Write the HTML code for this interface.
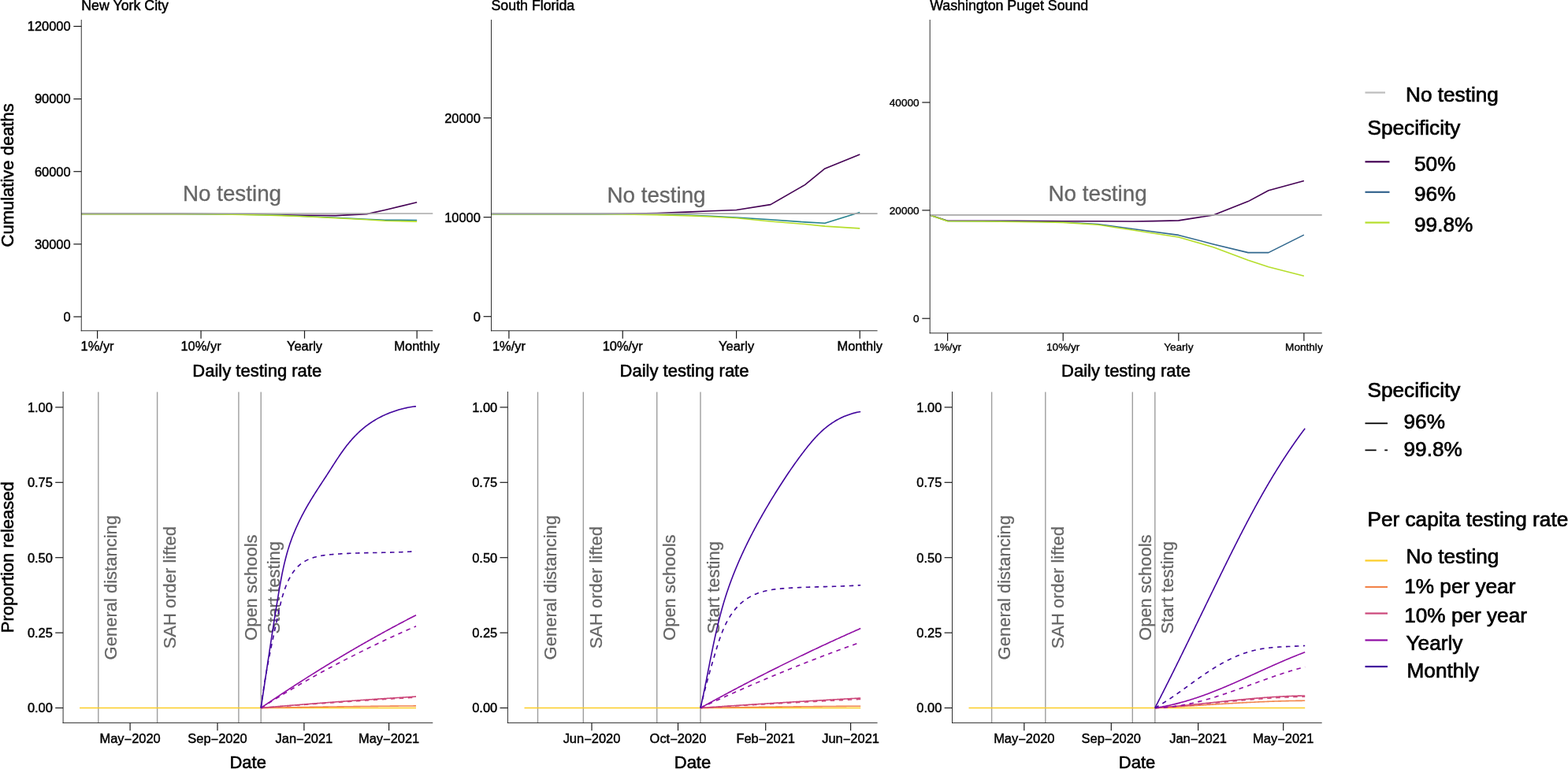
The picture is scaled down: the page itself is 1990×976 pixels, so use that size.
<!DOCTYPE html>
<html lang="en">
<head>
<meta charset="utf-8">
<title>Testing strategies: cumulative deaths and proportion released</title>
<style>
html,body{margin:0;padding:0;background:#fff;}
body{width:1990px;height:976px;overflow:hidden;}
svg{display:block;font-family:"Liberation Sans", Arial, Helvetica, sans-serif;}
</style>
</head>
<body>
<svg width="1990" height="976" viewBox="0 0 1990 976">
<rect x="0" y="0" width="1990" height="976" fill="#ffffff"/>
<text x="103.25" y="13.40" font-size="17.8" text-anchor="start" fill="#000" stroke="#000" stroke-width="0.47" >New York City</text>
<path d="M103.25,271.40 L123.60,271.40 L163.17,271.40 L202.74,271.40 L225.89,271.40 L255.05,271.50 L294.62,271.80 L334.19,272.30 L357.34,272.90 L386.50,273.30 L426.07,273.60 L465.64,271.60 L488.79,266.50 L529.15,256.80" fill="none" stroke="#440154" stroke-width="1.6" stroke-linejoin="round" />
<path d="M103.25,271.50 L123.60,271.50 L163.17,271.50 L202.74,271.50 L225.89,271.50 L255.05,271.60 L294.62,272.00 L334.19,272.70 L357.34,273.30 L386.50,274.50 L426.07,276.30 L465.64,278.20 L488.79,279.30 L529.15,279.50" fill="none" stroke="#26828e" stroke-width="1.6" stroke-linejoin="round" />
<path d="M103.25,271.70 L123.60,271.70 L163.17,271.70 L202.74,271.70 L225.89,271.70 L255.05,271.80 L294.62,272.20 L334.19,273.00 L357.34,273.60 L386.50,274.80 L426.07,276.70 L465.64,278.80 L488.79,280.20 L529.15,281.10" fill="none" stroke="#b5de2b" stroke-width="1.6" stroke-linejoin="round" />
<line x1="103.25" y1="271.00" x2="549.30" y2="271.00" stroke="#a9a9a9" stroke-width="1.6" />
<text x="294.50" y="254.50" font-size="27.8" text-anchor="middle" fill="#666666" stroke="#666666" stroke-width="0.30" >No testing</text>
<line x1="103.25" y1="25.00" x2="103.25" y2="420.25" stroke="#1a1a1a" stroke-width="0.9" />
<line x1="102.75" y1="419.75" x2="549.30" y2="419.75" stroke="#1a1a1a" stroke-width="0.9" />
<line x1="93.35" y1="402.00" x2="103.25" y2="402.00" stroke="#1a1a1a" stroke-width="1.2" />
<text x="89.65" y="407.89" font-size="16.45" text-anchor="end" fill="#000" stroke="#000" stroke-width="0.43" >0</text>
<line x1="93.35" y1="309.85" x2="103.25" y2="309.85" stroke="#1a1a1a" stroke-width="1.2" />
<text x="89.65" y="315.74" font-size="16.45" text-anchor="end" fill="#000" stroke="#000" stroke-width="0.43" >30000</text>
<line x1="93.35" y1="217.70" x2="103.25" y2="217.70" stroke="#1a1a1a" stroke-width="1.2" />
<text x="89.65" y="223.59" font-size="16.45" text-anchor="end" fill="#000" stroke="#000" stroke-width="0.43" >60000</text>
<line x1="93.35" y1="125.60" x2="103.25" y2="125.60" stroke="#1a1a1a" stroke-width="1.2" />
<text x="89.65" y="131.49" font-size="16.45" text-anchor="end" fill="#000" stroke="#000" stroke-width="0.43" >90000</text>
<line x1="93.35" y1="33.45" x2="103.25" y2="33.45" stroke="#1a1a1a" stroke-width="1.2" />
<text x="89.65" y="39.34" font-size="16.45" text-anchor="end" fill="#000" stroke="#000" stroke-width="0.43" >120000</text>
<line x1="123.60" y1="419.75" x2="123.60" y2="429.65" stroke="#1a1a1a" stroke-width="1.2" />
<text x="123.60" y="445.00" font-size="16.45" text-anchor="middle" fill="#000" stroke="#000" stroke-width="0.43" >1%/yr</text>
<line x1="255.05" y1="419.75" x2="255.05" y2="429.65" stroke="#1a1a1a" stroke-width="1.2" />
<text x="255.05" y="445.00" font-size="16.45" text-anchor="middle" fill="#000" stroke="#000" stroke-width="0.43" >10%/yr</text>
<line x1="386.50" y1="419.75" x2="386.50" y2="429.65" stroke="#1a1a1a" stroke-width="1.2" />
<text x="386.50" y="445.00" font-size="16.45" text-anchor="middle" fill="#000" stroke="#000" stroke-width="0.43" >Yearly</text>
<line x1="529.15" y1="419.75" x2="529.15" y2="429.65" stroke="#1a1a1a" stroke-width="1.2" />
<text x="529.15" y="445.00" font-size="16.45" text-anchor="middle" fill="#000" stroke="#000" stroke-width="0.43" >Monthly</text>
<text x="326.27" y="477.50" font-size="22" text-anchor="middle" fill="#000" stroke="#000" stroke-width="0.58" >Daily testing rate</text>
<text x="623.50" y="13.40" font-size="17.8" text-anchor="start" fill="#000" stroke="#000" stroke-width="0.47" >South Florida</text>
<path d="M623.50,271.50 L645.90,271.50 L689.35,271.50 L732.81,271.50 L758.23,271.50 L790.25,271.30 L833.70,270.50 L877.16,268.90 L902.58,267.80 L934.60,266.50 L978.05,259.60 L1021.51,234.60 L1046.93,213.90 L1091.25,196.10" fill="none" stroke="#440154" stroke-width="1.6" stroke-linejoin="round" />
<path d="M623.50,271.60 L645.90,271.60 L689.35,271.60 L732.81,271.60 L758.23,271.60 L790.25,271.70 L833.70,272.20 L877.16,273.30 L902.58,274.30 L934.60,276.00 L978.05,278.80 L1021.51,281.90 L1046.93,283.30 L1091.25,269.60" fill="none" stroke="#26828e" stroke-width="1.6" stroke-linejoin="round" />
<path d="M623.50,271.80 L645.90,271.80 L689.35,271.80 L732.81,271.80 L758.23,271.80 L790.25,271.90 L833.70,272.60 L877.16,273.90 L902.58,275.00 L934.60,276.80 L978.05,281.00 L1021.51,284.50 L1046.93,287.10 L1091.25,289.90" fill="none" stroke="#b5de2b" stroke-width="1.6" stroke-linejoin="round" />
<line x1="623.50" y1="271.10" x2="1113.60" y2="271.10" stroke="#a9a9a9" stroke-width="1.6" />
<text x="833.00" y="256.50" font-size="27.8" text-anchor="middle" fill="#666666" stroke="#666666" stroke-width="0.30" >No testing</text>
<line x1="623.50" y1="25.00" x2="623.50" y2="420.25" stroke="#1a1a1a" stroke-width="0.9" />
<line x1="623.00" y1="419.75" x2="1113.60" y2="419.75" stroke="#1a1a1a" stroke-width="0.9" />
<line x1="613.60" y1="401.70" x2="623.50" y2="401.70" stroke="#1a1a1a" stroke-width="1.2" />
<text x="609.90" y="407.59" font-size="16.45" text-anchor="end" fill="#000" stroke="#000" stroke-width="0.43" >0</text>
<line x1="613.60" y1="275.70" x2="623.50" y2="275.70" stroke="#1a1a1a" stroke-width="1.2" />
<text x="609.90" y="281.59" font-size="16.45" text-anchor="end" fill="#000" stroke="#000" stroke-width="0.43" >10000</text>
<line x1="613.60" y1="149.70" x2="623.50" y2="149.70" stroke="#1a1a1a" stroke-width="1.2" />
<text x="609.90" y="155.59" font-size="16.45" text-anchor="end" fill="#000" stroke="#000" stroke-width="0.43" >20000</text>
<line x1="645.90" y1="419.75" x2="645.90" y2="429.65" stroke="#1a1a1a" stroke-width="1.2" />
<text x="645.90" y="445.00" font-size="16.45" text-anchor="middle" fill="#000" stroke="#000" stroke-width="0.43" >1%/yr</text>
<line x1="790.25" y1="419.75" x2="790.25" y2="429.65" stroke="#1a1a1a" stroke-width="1.2" />
<text x="790.25" y="445.00" font-size="16.45" text-anchor="middle" fill="#000" stroke="#000" stroke-width="0.43" >10%/yr</text>
<line x1="934.60" y1="419.75" x2="934.60" y2="429.65" stroke="#1a1a1a" stroke-width="1.2" />
<text x="934.60" y="445.00" font-size="16.45" text-anchor="middle" fill="#000" stroke="#000" stroke-width="0.43" >Yearly</text>
<line x1="1091.25" y1="419.75" x2="1091.25" y2="429.65" stroke="#1a1a1a" stroke-width="1.2" />
<text x="1091.25" y="445.00" font-size="16.45" text-anchor="middle" fill="#000" stroke="#000" stroke-width="0.43" >Monthly</text>
<text x="868.55" y="477.50" font-size="22" text-anchor="middle" fill="#000" stroke="#000" stroke-width="0.58" >Daily testing rate</text>
<text x="1180.20" y="13.40" font-size="17.8" text-anchor="start" fill="#000" stroke="#000" stroke-width="0.47" >Washington Puget Sound</text>
<path d="M1180.20,272.90 L1202.60,280.20 L1246.73,280.30 L1290.86,280.40 L1316.68,280.50 L1349.20,280.80 L1393.33,280.80 L1437.46,281.00 L1463.28,280.60 L1495.80,279.90 L1539.93,273.00 L1584.06,255.60 L1609.88,241.80 L1654.89,229.50" fill="none" stroke="#440154" stroke-width="1.6" stroke-linejoin="round" />
<path d="M1180.20,272.90 L1202.60,280.50 L1246.73,280.80 L1290.86,281.20 L1316.68,281.50 L1349.20,282.00 L1393.33,284.50 L1437.46,290.50 L1463.28,294.00 L1495.80,298.40 L1539.93,309.90 L1584.06,320.60 L1609.88,320.60 L1654.89,298.10" fill="none" stroke="#31688e" stroke-width="1.6" stroke-linejoin="round" />
<path d="M1180.20,272.90 L1202.60,280.70 L1246.73,281.00 L1290.86,281.50 L1316.68,281.80 L1349.20,282.40 L1393.33,285.30 L1437.46,292.00 L1463.28,296.00 L1495.80,301.00 L1539.93,313.70 L1584.06,330.30 L1609.88,338.80 L1654.89,350.30" fill="none" stroke="#b5de2b" stroke-width="1.6" stroke-linejoin="round" />
<line x1="1180.20" y1="272.90" x2="1677.70" y2="272.90" stroke="#a9a9a9" stroke-width="1.6" />
<text x="1393.10" y="254.50" font-size="27.8" text-anchor="middle" fill="#666666" stroke="#666666" stroke-width="0.30" >No testing</text>
<line x1="1180.20" y1="25.00" x2="1180.20" y2="423.25" stroke="#1a1a1a" stroke-width="0.9" />
<line x1="1179.70" y1="422.75" x2="1677.70" y2="422.75" stroke="#1a1a1a" stroke-width="0.9" />
<line x1="1170.30" y1="404.20" x2="1180.20" y2="404.20" stroke="#1a1a1a" stroke-width="1.2" />
<text x="1166.60" y="409.07" font-size="13.6" text-anchor="end" fill="#000" stroke="#000" stroke-width="0.36" >0</text>
<line x1="1170.30" y1="266.90" x2="1180.20" y2="266.90" stroke="#1a1a1a" stroke-width="1.2" />
<text x="1166.60" y="271.77" font-size="13.6" text-anchor="end" fill="#000" stroke="#000" stroke-width="0.36" >20000</text>
<line x1="1170.30" y1="130.00" x2="1180.20" y2="130.00" stroke="#1a1a1a" stroke-width="1.2" />
<text x="1166.60" y="134.87" font-size="13.6" text-anchor="end" fill="#000" stroke="#000" stroke-width="0.36" >40000</text>
<line x1="1202.60" y1="422.75" x2="1202.60" y2="432.65" stroke="#1a1a1a" stroke-width="1.2" />
<text x="1202.60" y="445.15" font-size="13.6" text-anchor="middle" fill="#000" stroke="#000" stroke-width="0.36" >1%/yr</text>
<line x1="1349.20" y1="422.75" x2="1349.20" y2="432.65" stroke="#1a1a1a" stroke-width="1.2" />
<text x="1349.20" y="445.15" font-size="13.6" text-anchor="middle" fill="#000" stroke="#000" stroke-width="0.36" >10%/yr</text>
<line x1="1495.80" y1="422.75" x2="1495.80" y2="432.65" stroke="#1a1a1a" stroke-width="1.2" />
<text x="1495.80" y="445.15" font-size="13.6" text-anchor="middle" fill="#000" stroke="#000" stroke-width="0.36" >Yearly</text>
<line x1="1654.89" y1="422.75" x2="1654.89" y2="432.65" stroke="#1a1a1a" stroke-width="1.2" />
<text x="1654.89" y="445.15" font-size="13.6" text-anchor="middle" fill="#000" stroke="#000" stroke-width="0.36" >Monthly</text>
<text x="1428.95" y="477.50" font-size="22" text-anchor="middle" fill="#000" stroke="#000" stroke-width="0.58" >Daily testing rate</text>
<text x="17.30" y="222.40" font-size="22" text-anchor="middle" fill="#000" stroke="#000" stroke-width="0.58" transform="rotate(-90 17.30 222.40)" >Cumulative deaths</text>
<line x1="124.80" y1="497.60" x2="124.80" y2="917.40" stroke="#9e9e9e" stroke-width="1.4" />
<line x1="199.60" y1="497.60" x2="199.60" y2="917.40" stroke="#9e9e9e" stroke-width="1.4" />
<line x1="302.90" y1="497.60" x2="302.90" y2="917.40" stroke="#9e9e9e" stroke-width="1.4" />
<line x1="331.20" y1="497.60" x2="331.20" y2="917.40" stroke="#9e9e9e" stroke-width="1.4" />
<text x="148.40" y="745.70" font-size="22" text-anchor="middle" fill="#666666" stroke="#666666" stroke-width="0.25" transform="rotate(-90 148.40 745.70)" >General distancing</text>
<text x="223.20" y="745.70" font-size="22" text-anchor="middle" fill="#666666" stroke="#666666" stroke-width="0.25" transform="rotate(-90 223.20 745.70)" >SAH order lifted</text>
<text x="326.50" y="745.70" font-size="22" text-anchor="middle" fill="#666666" stroke="#666666" stroke-width="0.25" transform="rotate(-90 326.50 745.70)" >Open schools</text>
<text x="354.80" y="745.70" font-size="22" text-anchor="middle" fill="#666666" stroke="#666666" stroke-width="0.25" transform="rotate(-90 354.80 745.70)" >Start testing</text>
<path d="M101.10,898.50 L528.00,898.50" fill="none" stroke="#fccd25" stroke-width="1.6" stroke-linejoin="round" />
<path d="M331.20,898.50 L332.19,898.48 L333.18,898.46 L334.17,898.44 L335.16,898.42 L336.14,898.41 L337.13,898.39 L338.12,898.37 L339.11,898.35 L340.10,898.33 L341.09,898.31 L342.08,898.29 L343.07,898.28 L344.06,898.26 L345.05,898.24 L346.03,898.22 L347.02,898.20 L348.01,898.18 L349.00,898.17 L349.99,898.15 L350.98,898.13 L351.97,898.11 L352.96,898.09 L353.95,898.08 L354.93,898.06 L355.92,898.04 L356.91,898.02 L357.90,898.01 L358.89,897.99 L359.88,897.97 L360.87,897.95 L361.86,897.94 L362.85,897.92 L363.84,897.90 L364.82,897.88 L365.81,897.87 L366.80,897.85 L367.79,897.83 L368.78,897.82 L369.77,897.80 L370.76,897.78 L371.75,897.76 L372.74,897.75 L373.72,897.73 L374.71,897.71 L375.70,897.70 L376.69,897.68 L377.68,897.67 L378.67,897.65 L379.66,897.63 L380.65,897.62 L381.64,897.60 L382.63,897.58 L383.61,897.57 L384.60,897.55 L385.59,897.54 L386.58,897.52 L387.57,897.51 L388.56,897.49 L389.55,897.47 L390.54,897.46 L391.53,897.44 L392.51,897.43 L393.50,897.41 L394.49,897.40 L395.48,897.38 L396.47,897.37 L397.46,897.35 L398.45,897.34 L399.44,897.32 L400.43,897.31 L401.42,897.29 L402.40,897.28 L403.39,897.26 L404.38,897.25 L405.37,897.23 L406.36,897.22 L407.35,897.21 L408.34,897.19 L409.33,897.18 L410.32,897.16 L411.30,897.15 L412.29,897.14 L413.28,897.12 L414.27,897.11 L415.26,897.09 L416.25,897.08 L417.24,897.07 L418.23,897.05 L419.22,897.04 L420.21,897.03 L421.19,897.01 L422.18,897.00 L423.17,896.99 L424.16,896.97 L425.15,896.96 L426.14,896.95 L427.13,896.94 L428.12,896.92 L429.11,896.91 L430.09,896.90 L431.08,896.89 L432.07,896.87 L433.06,896.86 L434.05,896.85 L435.04,896.84 L436.03,896.83 L437.02,896.81 L438.01,896.80 L438.99,896.79 L439.98,896.78 L440.97,896.76 L441.96,896.75 L442.95,896.74 L443.94,896.73 L444.93,896.72 L445.92,896.71 L446.91,896.69 L447.90,896.68 L448.88,896.67 L449.87,896.66 L450.86,896.65 L451.85,896.64 L452.84,896.62 L453.83,896.61 L454.82,896.60 L455.81,896.59 L456.80,896.58 L457.78,896.57 L458.77,896.56 L459.76,896.54 L460.75,896.53 L461.74,896.52 L462.73,896.51 L463.72,896.50 L464.71,896.49 L465.70,896.48 L466.69,896.47 L467.67,896.46 L468.66,896.45 L469.65,896.43 L470.64,896.42 L471.63,896.41 L472.62,896.40 L473.61,896.39 L474.60,896.38 L475.59,896.37 L476.57,896.36 L477.56,896.35 L478.55,896.34 L479.54,896.33 L480.53,896.32 L481.52,896.31 L482.51,896.30 L483.50,896.29 L484.49,896.28 L485.48,896.27 L486.46,896.26 L487.45,896.25 L488.44,896.24 L489.43,896.23 L490.42,896.22 L491.41,896.21 L492.40,896.20 L493.39,896.19 L494.38,896.18 L495.36,896.17 L496.35,896.16 L497.34,896.15 L498.33,896.15 L499.32,896.14 L500.31,896.13 L501.30,896.12 L502.29,896.11 L503.28,896.10 L504.27,896.09 L505.25,896.08 L506.24,896.07 L507.23,896.07 L508.22,896.06 L509.21,896.05 L510.20,896.04 L511.19,896.03 L512.18,896.02 L513.17,896.02 L514.15,896.01 L515.14,896.00 L516.13,895.99 L517.12,895.98 L518.11,895.97 L519.10,895.97 L520.09,895.96 L521.08,895.95 L522.07,895.94 L523.06,895.94 L524.04,895.93 L525.03,895.92 L526.02,895.91 L527.01,895.91 L528.00,895.90" fill="none" stroke="#f2844b" stroke-width="1.6" stroke-linejoin="round" />
<path d="M331.20,898.50 L332.19,898.41 L333.18,898.33 L334.17,898.24 L335.16,898.16 L336.14,898.07 L337.13,897.99 L338.12,897.90 L339.11,897.82 L340.10,897.73 L341.09,897.65 L342.08,897.56 L343.07,897.48 L344.06,897.39 L345.05,897.31 L346.03,897.23 L347.02,897.14 L348.01,897.06 L349.00,896.98 L349.99,896.89 L350.98,896.81 L351.97,896.73 L352.96,896.64 L353.95,896.56 L354.93,896.48 L355.92,896.39 L356.91,896.31 L357.90,896.23 L358.89,896.15 L359.88,896.06 L360.87,895.98 L361.86,895.90 L362.85,895.82 L363.84,895.74 L364.82,895.65 L365.81,895.57 L366.80,895.49 L367.79,895.41 L368.78,895.33 L369.77,895.25 L370.76,895.17 L371.75,895.09 L372.74,895.01 L373.72,894.93 L374.71,894.85 L375.70,894.77 L376.69,894.69 L377.68,894.61 L378.67,894.53 L379.66,894.45 L380.65,894.37 L381.64,894.29 L382.63,894.21 L383.61,894.13 L384.60,894.05 L385.59,893.98 L386.58,893.90 L387.57,893.82 L388.56,893.74 L389.55,893.66 L390.54,893.58 L391.53,893.51 L392.51,893.43 L393.50,893.35 L394.49,893.27 L395.48,893.20 L396.47,893.12 L397.46,893.04 L398.45,892.97 L399.44,892.89 L400.43,892.81 L401.42,892.74 L402.40,892.66 L403.39,892.59 L404.38,892.51 L405.37,892.43 L406.36,892.36 L407.35,892.28 L408.34,892.21 L409.33,892.13 L410.32,892.06 L411.30,891.98 L412.29,891.91 L413.28,891.83 L414.27,891.76 L415.26,891.69 L416.25,891.61 L417.24,891.54 L418.23,891.46 L419.22,891.39 L420.21,891.32 L421.19,891.24 L422.18,891.17 L423.17,891.10 L424.16,891.03 L425.15,890.95 L426.14,890.88 L427.13,890.81 L428.12,890.74 L429.11,890.66 L430.09,890.59 L431.08,890.52 L432.07,890.45 L433.06,890.38 L434.05,890.31 L435.04,890.24 L436.03,890.17 L437.02,890.09 L438.01,890.02 L438.99,889.95 L439.98,889.88 L440.97,889.81 L441.96,889.74 L442.95,889.67 L443.94,889.60 L444.93,889.53 L445.92,889.46 L446.91,889.39 L447.90,889.32 L448.88,889.25 L449.87,889.18 L450.86,889.11 L451.85,889.04 L452.84,888.97 L453.83,888.91 L454.82,888.84 L455.81,888.77 L456.80,888.70 L457.78,888.63 L458.77,888.56 L459.76,888.49 L460.75,888.43 L461.74,888.36 L462.73,888.29 L463.72,888.22 L464.71,888.15 L465.70,888.09 L466.69,888.02 L467.67,887.95 L468.66,887.89 L469.65,887.82 L470.64,887.75 L471.63,887.68 L472.62,887.62 L473.61,887.55 L474.60,887.49 L475.59,887.42 L476.57,887.35 L477.56,887.29 L478.55,887.22 L479.54,887.16 L480.53,887.09 L481.52,887.02 L482.51,886.96 L483.50,886.89 L484.49,886.83 L485.48,886.76 L486.46,886.70 L487.45,886.63 L488.44,886.57 L489.43,886.51 L490.42,886.44 L491.41,886.38 L492.40,886.31 L493.39,886.25 L494.38,886.18 L495.36,886.12 L496.35,886.06 L497.34,885.99 L498.33,885.93 L499.32,885.87 L500.31,885.81 L501.30,885.74 L502.29,885.68 L503.28,885.62 L504.27,885.55 L505.25,885.49 L506.24,885.43 L507.23,885.37 L508.22,885.31 L509.21,885.24 L510.20,885.18 L511.19,885.12 L512.18,885.06 L513.17,885.00 L514.15,884.94 L515.14,884.88 L516.13,884.82 L517.12,884.76 L518.11,884.70 L519.10,884.64 L520.09,884.58 L521.08,884.52 L522.07,884.46 L523.06,884.40 L524.04,884.34 L525.03,884.28 L526.02,884.22 L527.01,884.16 L528.00,884.10" fill="none" stroke="#cb4679" stroke-width="1.6" stroke-linejoin="round" />
<path d="M331.20,898.50 L332.19,898.42 L333.18,898.35 L334.17,898.27 L335.16,898.19 L336.14,898.12 L337.13,898.04 L338.12,897.96 L339.11,897.89 L340.10,897.81 L341.09,897.74 L342.08,897.66 L343.07,897.58 L344.06,897.51 L345.05,897.43 L346.03,897.36 L347.02,897.28 L348.01,897.21 L349.00,897.13 L349.99,897.06 L350.98,896.98 L351.97,896.91 L352.96,896.83 L353.95,896.76 L354.93,896.68 L355.92,896.61 L356.91,896.53 L357.90,896.46 L358.89,896.38 L359.88,896.31 L360.87,896.24 L361.86,896.16 L362.85,896.09 L363.84,896.01 L364.82,895.94 L365.81,895.87 L366.80,895.79 L367.79,895.72 L368.78,895.65 L369.77,895.57 L370.76,895.50 L371.75,895.43 L372.74,895.35 L373.72,895.28 L374.71,895.21 L375.70,895.14 L376.69,895.06 L377.68,894.99 L378.67,894.92 L379.66,894.85 L380.65,894.77 L381.64,894.70 L382.63,894.63 L383.61,894.56 L384.60,894.49 L385.59,894.41 L386.58,894.34 L387.57,894.27 L388.56,894.20 L389.55,894.13 L390.54,894.06 L391.53,893.99 L392.51,893.91 L393.50,893.84 L394.49,893.77 L395.48,893.70 L396.47,893.63 L397.46,893.56 L398.45,893.49 L399.44,893.42 L400.43,893.35 L401.42,893.28 L402.40,893.21 L403.39,893.14 L404.38,893.07 L405.37,893.00 L406.36,892.93 L407.35,892.86 L408.34,892.79 L409.33,892.72 L410.32,892.65 L411.30,892.59 L412.29,892.52 L413.28,892.45 L414.27,892.38 L415.26,892.31 L416.25,892.24 L417.24,892.17 L418.23,892.10 L419.22,892.04 L420.21,891.97 L421.19,891.90 L422.18,891.83 L423.17,891.77 L424.16,891.70 L425.15,891.63 L426.14,891.56 L427.13,891.49 L428.12,891.43 L429.11,891.36 L430.09,891.29 L431.08,891.23 L432.07,891.16 L433.06,891.09 L434.05,891.03 L435.04,890.96 L436.03,890.89 L437.02,890.83 L438.01,890.76 L438.99,890.69 L439.98,890.63 L440.97,890.56 L441.96,890.50 L442.95,890.43 L443.94,890.36 L444.93,890.30 L445.92,890.23 L446.91,890.17 L447.90,890.10 L448.88,890.04 L449.87,889.97 L450.86,889.91 L451.85,889.84 L452.84,889.78 L453.83,889.71 L454.82,889.65 L455.81,889.58 L456.80,889.52 L457.78,889.45 L458.77,889.39 L459.76,889.32 L460.75,889.26 L461.74,889.19 L462.73,889.13 L463.72,889.07 L464.71,889.00 L465.70,888.94 L466.69,888.87 L467.67,888.81 L468.66,888.75 L469.65,888.68 L470.64,888.62 L471.63,888.56 L472.62,888.49 L473.61,888.43 L474.60,888.37 L475.59,888.30 L476.57,888.24 L477.56,888.18 L478.55,888.12 L479.54,888.05 L480.53,887.99 L481.52,887.93 L482.51,887.87 L483.50,887.80 L484.49,887.74 L485.48,887.68 L486.46,887.62 L487.45,887.55 L488.44,887.49 L489.43,887.43 L490.42,887.37 L491.41,887.31 L492.40,887.25 L493.39,887.19 L494.38,887.12 L495.36,887.06 L496.35,887.00 L497.34,886.94 L498.33,886.88 L499.32,886.82 L500.31,886.76 L501.30,886.70 L502.29,886.64 L503.28,886.58 L504.27,886.52 L505.25,886.46 L506.24,886.40 L507.23,886.34 L508.22,886.28 L509.21,886.22 L510.20,886.16 L511.19,886.10 L512.18,886.04 L513.17,885.98 L514.15,885.92 L515.14,885.86 L516.13,885.80 L517.12,885.74 L518.11,885.68 L519.10,885.62 L520.09,885.57 L521.08,885.51 L522.07,885.45 L523.06,885.39 L524.04,885.33 L525.03,885.27 L526.02,885.22 L527.01,885.16 L528.00,885.10" fill="none" stroke="#cb4679" stroke-width="1.6" stroke-linejoin="round" stroke-dasharray="5.5 5.5" />
<path d="M331.20,898.50 L332.19,897.82 L333.18,897.15 L334.17,896.47 L335.16,895.80 L336.14,895.13 L337.13,894.45 L338.12,893.78 L339.11,893.11 L340.10,892.44 L341.09,891.77 L342.08,891.11 L343.07,890.44 L344.06,889.77 L345.05,889.11 L346.03,888.44 L347.02,887.78 L348.01,887.12 L349.00,886.46 L349.99,885.79 L350.98,885.13 L351.97,884.47 L352.96,883.82 L353.95,883.16 L354.93,882.50 L355.92,881.85 L356.91,881.19 L357.90,880.54 L358.89,879.88 L359.88,879.23 L360.87,878.58 L361.86,877.93 L362.85,877.28 L363.84,876.63 L364.82,875.98 L365.81,875.33 L366.80,874.69 L367.79,874.04 L368.78,873.40 L369.77,872.75 L370.76,872.11 L371.75,871.47 L372.74,870.83 L373.72,870.18 L374.71,869.54 L375.70,868.91 L376.69,868.27 L377.68,867.63 L378.67,866.99 L379.66,866.36 L380.65,865.72 L381.64,865.09 L382.63,864.46 L383.61,863.83 L384.60,863.19 L385.59,862.56 L386.58,861.93 L387.57,861.31 L388.56,860.68 L389.55,860.05 L390.54,859.42 L391.53,858.80 L392.51,858.18 L393.50,857.55 L394.49,856.93 L395.48,856.31 L396.47,855.69 L397.46,855.07 L398.45,854.45 L399.44,853.83 L400.43,853.21 L401.42,852.59 L402.40,851.98 L403.39,851.36 L404.38,850.75 L405.37,850.14 L406.36,849.52 L407.35,848.91 L408.34,848.30 L409.33,847.69 L410.32,847.08 L411.30,846.47 L412.29,845.87 L413.28,845.26 L414.27,844.65 L415.26,844.05 L416.25,843.45 L417.24,842.84 L418.23,842.24 L419.22,841.64 L420.21,841.04 L421.19,840.44 L422.18,839.84 L423.17,839.24 L424.16,838.65 L425.15,838.05 L426.14,837.45 L427.13,836.86 L428.12,836.27 L429.11,835.67 L430.09,835.08 L431.08,834.49 L432.07,833.90 L433.06,833.31 L434.05,832.72 L435.04,832.13 L436.03,831.55 L437.02,830.96 L438.01,830.38 L438.99,829.79 L439.98,829.21 L440.97,828.63 L441.96,828.05 L442.95,827.46 L443.94,826.88 L444.93,826.31 L445.92,825.73 L446.91,825.15 L447.90,824.57 L448.88,824.00 L449.87,823.42 L450.86,822.85 L451.85,822.28 L452.84,821.70 L453.83,821.13 L454.82,820.56 L455.81,819.99 L456.80,819.42 L457.78,818.85 L458.77,818.29 L459.76,817.72 L460.75,817.16 L461.74,816.59 L462.73,816.03 L463.72,815.46 L464.71,814.90 L465.70,814.34 L466.69,813.78 L467.67,813.22 L468.66,812.66 L469.65,812.10 L470.64,811.55 L471.63,810.99 L472.62,810.44 L473.61,809.88 L474.60,809.33 L475.59,808.77 L476.57,808.22 L477.56,807.67 L478.55,807.12 L479.54,806.57 L480.53,806.02 L481.52,805.48 L482.51,804.93 L483.50,804.38 L484.49,803.84 L485.48,803.29 L486.46,802.75 L487.45,802.21 L488.44,801.67 L489.43,801.13 L490.42,800.59 L491.41,800.05 L492.40,799.51 L493.39,798.97 L494.38,798.43 L495.36,797.90 L496.35,797.36 L497.34,796.83 L498.33,796.30 L499.32,795.76 L500.31,795.23 L501.30,794.70 L502.29,794.17 L503.28,793.64 L504.27,793.12 L505.25,792.59 L506.24,792.06 L507.23,791.54 L508.22,791.01 L509.21,790.49 L510.20,789.97 L511.19,789.44 L512.18,788.92 L513.17,788.40 L514.15,787.88 L515.14,787.36 L516.13,786.85 L517.12,786.33 L518.11,785.81 L519.10,785.30 L520.09,784.78 L521.08,784.27 L522.07,783.76 L523.06,783.25 L524.04,782.74 L525.03,782.23 L526.02,781.72 L527.01,781.21 L528.00,780.70" fill="none" stroke="#8f0da4" stroke-width="1.6" stroke-linejoin="round" />
<path d="M331.20,898.50 L332.19,897.88 L333.18,897.26 L334.17,896.64 L335.16,896.02 L336.14,895.41 L337.13,894.79 L338.12,894.18 L339.11,893.56 L340.10,892.95 L341.09,892.33 L342.08,891.72 L343.07,891.11 L344.06,890.50 L345.05,889.89 L346.03,889.29 L347.02,888.68 L348.01,888.07 L349.00,887.47 L349.99,886.86 L350.98,886.26 L351.97,885.66 L352.96,885.05 L353.95,884.45 L354.93,883.85 L355.92,883.25 L356.91,882.66 L357.90,882.06 L358.89,881.46 L359.88,880.87 L360.87,880.28 L361.86,879.68 L362.85,879.09 L363.84,878.50 L364.82,877.91 L365.81,877.32 L366.80,876.73 L367.79,876.15 L368.78,875.56 L369.77,874.98 L370.76,874.39 L371.75,873.81 L372.74,873.23 L373.72,872.65 L374.71,872.07 L375.70,871.49 L376.69,870.91 L377.68,870.34 L378.67,869.76 L379.66,869.19 L380.65,868.62 L381.64,868.05 L382.63,867.48 L383.61,866.91 L384.60,866.34 L385.59,865.77 L386.58,865.20 L387.57,864.64 L388.56,864.08 L389.55,863.51 L390.54,862.95 L391.53,862.39 L392.51,861.83 L393.50,861.28 L394.49,860.72 L395.48,860.16 L396.47,859.61 L397.46,859.06 L398.45,858.51 L399.44,857.96 L400.43,857.41 L401.42,856.86 L402.40,856.31 L403.39,855.77 L404.38,855.22 L405.37,854.68 L406.36,854.14 L407.35,853.60 L408.34,853.06 L409.33,852.52 L410.32,851.98 L411.30,851.45 L412.29,850.92 L413.28,850.38 L414.27,849.85 L415.26,849.32 L416.25,848.79 L417.24,848.27 L418.23,847.74 L419.22,847.21 L420.21,846.69 L421.19,846.17 L422.18,845.65 L423.17,845.13 L424.16,844.61 L425.15,844.09 L426.14,843.57 L427.13,843.05 L428.12,842.53 L429.11,842.02 L430.09,841.50 L431.08,840.99 L432.07,840.47 L433.06,839.96 L434.05,839.45 L435.04,838.93 L436.03,838.42 L437.02,837.91 L438.01,837.40 L438.99,836.89 L439.98,836.38 L440.97,835.88 L441.96,835.37 L442.95,834.87 L443.94,834.36 L444.93,833.86 L445.92,833.35 L446.91,832.85 L447.90,832.35 L448.88,831.85 L449.87,831.35 L450.86,830.85 L451.85,830.35 L452.84,829.85 L453.83,829.36 L454.82,828.86 L455.81,828.37 L456.80,827.87 L457.78,827.38 L458.77,826.89 L459.76,826.39 L460.75,825.90 L461.74,825.41 L462.73,824.92 L463.72,824.44 L464.71,823.95 L465.70,823.46 L466.69,822.98 L467.67,822.49 L468.66,822.01 L469.65,821.53 L470.64,821.05 L471.63,820.56 L472.62,820.08 L473.61,819.61 L474.60,819.13 L475.59,818.65 L476.57,818.17 L477.56,817.70 L478.55,817.22 L479.54,816.75 L480.53,816.28 L481.52,815.81 L482.51,815.34 L483.50,814.87 L484.49,814.40 L485.48,813.93 L486.46,813.46 L487.45,813.00 L488.44,812.53 L489.43,812.07 L490.42,811.61 L491.41,811.15 L492.40,810.69 L493.39,810.23 L494.38,809.77 L495.36,809.31 L496.35,808.85 L497.34,808.40 L498.33,807.94 L499.32,807.49 L500.31,807.04 L501.30,806.59 L502.29,806.13 L503.28,805.69 L504.27,805.24 L505.25,804.79 L506.24,804.34 L507.23,803.90 L508.22,803.45 L509.21,803.01 L510.20,802.57 L511.19,802.13 L512.18,801.69 L513.17,801.25 L514.15,800.81 L515.14,800.37 L516.13,799.94 L517.12,799.50 L518.11,799.07 L519.10,798.64 L520.09,798.21 L521.08,797.78 L522.07,797.35 L523.06,796.92 L524.04,796.50 L525.03,796.07 L526.02,795.65 L527.01,795.22 L528.00,794.80" fill="none" stroke="#8f0da4" stroke-width="1.6" stroke-linejoin="round" stroke-dasharray="5.5 5.5" />
<path d="M331.20,898.50 L331.43,896.98 L331.66,895.45 L331.89,893.93 L332.12,892.40 L332.35,890.88 L332.57,889.36 L332.80,887.83 L333.03,886.31 L333.26,884.79 L333.49,883.26 L333.72,881.74 L333.94,880.22 L334.17,878.70 L334.40,877.17 L334.63,875.65 L334.86,874.13 L335.08,872.61 L335.31,871.08 L335.54,869.56 L335.77,868.04 L335.99,866.52 L336.22,864.99 L336.45,863.47 L336.68,861.95 L336.90,860.43 L337.13,858.91 L337.36,857.39 L337.59,855.86 L337.82,854.34 L338.04,852.82 L338.27,851.30 L338.50,849.78 L338.73,848.26 L338.96,846.74 L339.18,845.21 L339.41,843.69 L339.64,842.17 L339.87,840.65 L340.10,839.13 L340.33,837.61 L340.56,836.09 L340.79,834.57 L341.02,833.05 L341.25,831.53 L341.48,830.01 L341.71,828.49 L341.94,826.96 L342.17,825.44 L342.40,823.92 L342.63,822.40 L342.86,820.88 L343.09,819.36 L343.33,817.84 L343.56,816.32 L343.79,814.80 L344.02,813.28 L344.26,811.76 L344.49,810.24 L344.72,808.72 L344.96,807.20 L345.19,805.68 L345.43,804.16 L345.66,802.64 L345.90,801.12 L346.13,799.60 L346.37,798.08 L346.61,796.56 L346.84,795.04 L347.08,793.52 L347.32,791.99 L347.56,790.47 L347.80,788.95 L348.04,787.43 L348.28,785.91 L348.52,784.39 L348.76,782.87 L349.00,781.35 L349.24,779.83 L349.48,778.31 L349.73,776.79 L349.97,775.27 L350.21,773.75 L350.46,772.23 L350.70,770.71 L350.95,769.19 L351.20,767.67 L351.44,766.15 L351.69,764.62 L351.94,763.10 L352.19,761.58 L352.43,760.06 L352.68,758.54 L352.94,757.02 L353.19,755.50 L353.44,753.98 L353.69,752.46 L353.95,750.94 L354.20,749.42 L354.46,747.90 L354.72,746.38 L354.99,744.86 L355.25,743.34 L355.52,741.82 L355.79,740.30 L356.06,738.79 L356.34,737.27 L356.62,735.75 L356.91,734.24 L357.19,732.73 L357.49,731.22 L357.78,729.70 L358.08,728.20 L358.39,726.69 L358.70,725.18 L359.02,723.67 L359.34,722.17 L359.66,720.67 L360.00,719.17 L360.33,717.67 L360.68,716.17 L361.03,714.67 L361.39,713.18 L361.75,711.69 L362.12,710.19 L362.50,708.71 L362.88,707.22 L363.28,705.74 L363.68,704.25 L364.08,702.78 L364.50,701.30 L364.93,699.82 L365.36,698.35 L365.80,696.88 L366.25,695.41 L366.71,693.95 L367.18,692.49 L367.66,691.03 L368.15,689.57 L368.65,688.12 L369.16,686.67 L369.68,685.23 L370.21,683.78 L370.75,682.34 L371.30,680.90 L371.87,679.47 L372.44,678.04 L373.02,676.61 L373.61,675.19 L374.21,673.77 L374.81,672.35 L375.43,670.94 L376.06,669.53 L376.69,668.12 L377.33,666.71 L377.98,665.31 L378.64,663.92 L379.30,662.52 L379.97,661.14 L380.65,659.75 L381.34,658.37 L382.03,656.99 L382.72,655.61 L383.43,654.24 L384.14,652.87 L384.86,651.51 L385.58,650.15 L386.31,648.80 L387.05,647.45 L387.79,646.10 L388.55,644.76 L389.30,643.42 L390.07,642.09 L390.84,640.76 L391.61,639.43 L392.39,638.11 L393.18,636.79 L393.97,635.48 L394.77,634.16 L395.57,632.86 L396.37,631.55 L397.18,630.25 L398.00,628.95 L398.81,627.65 L399.64,626.35 L400.46,625.05 L401.29,623.76 L402.12,622.47 L402.95,621.18 L403.78,619.89 L404.62,618.60 L405.46,617.31 L406.29,616.03 L407.13,614.74 L407.98,613.45 L408.82,612.17 L409.66,610.88 L410.50,609.59 L411.35,608.31 L412.19,607.02 L413.03,605.73 L413.87,604.44 L414.71,603.15 L415.55,601.85 L416.39,600.56 L417.22,599.26 L418.05,597.96 L418.89,596.67 L419.72,595.36 L420.55,594.06 L421.38,592.76 L422.21,591.46 L423.05,590.16 L423.88,588.86 L424.72,587.56 L425.56,586.27 L426.40,584.97 L427.25,583.68 L428.10,582.39 L428.95,581.11 L429.81,579.82 L430.67,578.55 L431.54,577.27 L432.41,576.00 L433.29,574.74 L434.18,573.48 L435.07,572.23 L435.97,570.98 L436.88,569.74 L437.80,568.51 L438.73,567.28 L439.66,566.07 L440.61,564.86 L441.57,563.65 L442.53,562.46 L443.51,561.28 L444.50,560.11 L445.50,558.94 L446.52,557.79 L447.54,556.65 L448.58,555.51 L449.63,554.39 L450.69,553.28 L451.76,552.19 L452.84,551.10 L453.94,550.03 L455.05,548.97 L456.17,547.92 L457.31,546.89 L458.45,545.87 L459.61,544.86 L460.78,543.87 L461.96,542.90 L463.16,541.93 L464.37,540.99 L465.59,540.06 L466.82,539.14 L468.07,538.24 L469.33,537.36 L470.60,536.50 L471.88,535.65 L473.17,534.81 L474.47,534.00 L475.79,533.20 L477.11,532.41 L478.45,531.65 L479.80,530.90 L481.15,530.16 L482.52,529.45 L483.89,528.74 L485.27,528.06 L486.67,527.39 L488.07,526.74 L489.47,526.11 L490.89,525.49 L492.31,524.89 L493.74,524.31 L495.18,523.75 L496.62,523.20 L498.08,522.67 L499.53,522.15 L500.99,521.66 L502.46,521.18 L503.94,520.71 L505.41,520.27 L506.90,519.84 L508.38,519.43 L509.88,519.04 L511.37,518.66 L512.87,518.31 L514.37,517.96 L515.88,517.64 L517.39,517.34 L518.90,517.05 L520.41,516.78 L521.93,516.53 L523.44,516.29 L524.96,516.08 L526.48,515.88 L528.00,515.70" fill="none" stroke="#41049d" stroke-width="1.6" stroke-linejoin="round" />
<path d="M331.20,898.50 L331.34,897.36 L331.48,896.23 L331.62,895.09 L331.76,893.95 L331.90,892.82 L332.05,891.68 L332.20,890.55 L332.35,889.41 L332.50,888.28 L332.66,887.15 L332.81,886.02 L332.97,884.88 L333.13,883.75 L333.29,882.62 L333.45,881.49 L333.61,880.36 L333.78,879.23 L333.95,878.10 L334.12,876.97 L334.29,875.84 L334.46,874.71 L334.63,873.59 L334.81,872.46 L334.99,871.33 L335.17,870.21 L335.35,869.08 L335.53,867.95 L335.71,866.83 L335.89,865.70 L336.08,864.58 L336.27,863.45 L336.46,862.33 L336.65,861.21 L336.84,860.08 L337.03,858.96 L337.23,857.84 L337.42,856.72 L337.62,855.59 L337.82,854.47 L338.01,853.35 L338.22,852.23 L338.42,851.11 L338.62,849.99 L338.82,848.87 L339.03,847.75 L339.24,846.63 L339.44,845.51 L339.65,844.39 L339.86,843.27 L340.07,842.15 L340.28,841.03 L340.50,839.91 L340.71,838.80 L340.92,837.68 L341.14,836.56 L341.36,835.44 L341.58,834.33 L341.79,833.21 L342.01,832.09 L342.23,830.98 L342.46,829.86 L342.68,828.74 L342.90,827.63 L343.12,826.51 L343.35,825.40 L343.57,824.28 L343.80,823.17 L344.03,822.05 L344.25,820.93 L344.48,819.82 L344.71,818.70 L344.94,817.59 L345.17,816.48 L345.40,815.36 L345.63,814.25 L345.87,813.13 L346.10,812.02 L346.33,810.90 L346.57,809.79 L346.80,808.68 L347.04,807.56 L347.27,806.45 L347.51,805.33 L347.74,804.22 L347.98,803.11 L348.22,801.99 L348.45,800.88 L348.69,799.77 L348.93,798.65 L349.17,797.54 L349.41,796.42 L349.65,795.31 L349.89,794.20 L350.13,793.08 L350.37,791.97 L350.61,790.86 L350.85,789.74 L351.09,788.63 L351.33,787.52 L351.57,786.40 L351.81,785.29 L352.05,784.17 L352.29,783.06 L352.53,781.95 L352.78,780.83 L353.02,779.72 L353.26,778.60 L353.50,777.49 L353.74,776.38 L353.99,775.26 L354.23,774.15 L354.48,773.03 L354.73,771.92 L354.98,770.81 L355.24,769.70 L355.50,768.58 L355.76,767.47 L356.02,766.36 L356.29,765.25 L356.57,764.14 L356.85,763.03 L357.13,761.93 L357.42,760.82 L357.72,759.71 L358.02,758.61 L358.33,757.50 L358.64,756.40 L358.97,755.30 L359.30,754.20 L359.64,753.10 L359.98,752.00 L360.34,750.91 L360.70,749.81 L361.07,748.72 L361.46,747.63 L361.85,746.54 L362.25,745.45 L362.67,744.37 L363.09,743.29 L363.52,742.21 L363.97,741.13 L364.43,740.06 L364.90,739.00 L365.38,737.94 L365.88,736.89 L366.38,735.84 L366.90,734.81 L367.44,733.78 L367.98,732.77 L368.54,731.76 L369.12,730.76 L369.71,729.78 L370.31,728.81 L370.93,727.85 L371.56,726.91 L372.21,725.98 L372.87,725.06 L373.55,724.16 L374.24,723.28 L374.96,722.41 L375.68,721.57 L376.43,720.74 L377.19,719.93 L377.97,719.14 L378.77,718.37 L379.58,717.62 L380.41,716.89 L381.26,716.19 L382.13,715.51 L383.02,714.85 L383.93,714.22 L384.85,713.60 L385.79,713.02 L386.75,712.45 L387.72,711.91 L388.70,711.38 L389.70,710.88 L390.72,710.40 L391.74,709.94 L392.78,709.50 L393.83,709.08 L394.89,708.68 L395.96,708.29 L397.04,707.93 L398.13,707.58 L399.23,707.25 L400.34,706.94 L401.45,706.65 L402.56,706.37 L403.69,706.11 L404.82,705.86 L405.95,705.63 L407.08,705.42 L408.22,705.21 L409.36,705.03 L410.51,704.85 L411.66,704.69 L412.80,704.54 L413.95,704.39 L415.11,704.26 L416.26,704.14 L417.41,704.02 L418.57,703.91 L419.72,703.80 L420.87,703.70 L422.03,703.61 L423.18,703.51 L424.33,703.42 L425.48,703.34 L426.63,703.25 L427.78,703.17 L428.93,703.09 L430.08,703.02 L431.23,702.95 L432.37,702.88 L433.52,702.81 L434.66,702.74 L435.81,702.68 L436.95,702.62 L438.10,702.56 L439.24,702.50 L440.38,702.45 L441.52,702.40 L442.66,702.35 L443.80,702.30 L444.94,702.25 L446.08,702.21 L447.22,702.17 L448.36,702.13 L449.50,702.09 L450.64,702.05 L451.77,702.01 L452.91,701.98 L454.05,701.94 L455.18,701.91 L456.32,701.88 L457.45,701.85 L458.59,701.82 L459.72,701.80 L460.86,701.77 L461.99,701.74 L463.13,701.72 L464.26,701.70 L465.39,701.67 L466.53,701.65 L467.66,701.63 L468.79,701.61 L469.93,701.59 L471.06,701.57 L472.19,701.55 L473.33,701.53 L474.46,701.51 L475.59,701.49 L476.73,701.47 L477.86,701.45 L478.99,701.43 L480.12,701.41 L481.26,701.39 L482.39,701.37 L483.52,701.35 L484.66,701.33 L485.79,701.31 L486.92,701.29 L488.06,701.27 L489.19,701.25 L490.33,701.22 L491.46,701.20 L492.60,701.18 L493.73,701.15 L494.87,701.13 L496.00,701.10 L497.14,701.07 L498.28,701.04 L499.41,701.01 L500.55,700.98 L501.69,700.95 L502.82,700.91 L503.96,700.88 L505.10,700.84 L506.24,700.80 L507.38,700.76 L508.52,700.72 L509.66,700.68 L510.80,700.63 L511.94,700.59 L513.09,700.54 L514.23,700.49 L515.37,700.43 L516.52,700.38 L517.66,700.32 L518.81,700.26 L519.96,700.20 L521.10,700.14 L522.25,700.07 L523.40,700.00 L524.55,699.93 L525.70,699.86 L526.85,699.78 L528.00,699.70" fill="none" stroke="#41049d" stroke-width="1.6" stroke-linejoin="round" stroke-dasharray="5.5 5.5" />
<line x1="80.10" y1="497.00" x2="80.10" y2="917.90" stroke="#1a1a1a" stroke-width="0.9" />
<line x1="79.60" y1="917.40" x2="549.30" y2="917.40" stroke="#1a1a1a" stroke-width="0.9" />
<line x1="70.20" y1="898.50" x2="80.10" y2="898.50" stroke="#1a1a1a" stroke-width="1.2" />
<text x="66.90" y="904.40" font-size="16.45" text-anchor="end" fill="#000" stroke="#000" stroke-width="0.43" >0.00</text>
<line x1="70.20" y1="803.10" x2="80.10" y2="803.10" stroke="#1a1a1a" stroke-width="1.2" />
<text x="66.90" y="809.00" font-size="16.45" text-anchor="end" fill="#000" stroke="#000" stroke-width="0.43" >0.25</text>
<line x1="70.20" y1="707.70" x2="80.10" y2="707.70" stroke="#1a1a1a" stroke-width="1.2" />
<text x="66.90" y="713.60" font-size="16.45" text-anchor="end" fill="#000" stroke="#000" stroke-width="0.43" >0.50</text>
<line x1="70.20" y1="612.30" x2="80.10" y2="612.30" stroke="#1a1a1a" stroke-width="1.2" />
<text x="66.90" y="618.20" font-size="16.45" text-anchor="end" fill="#000" stroke="#000" stroke-width="0.43" >0.75</text>
<line x1="70.20" y1="516.90" x2="80.10" y2="516.90" stroke="#1a1a1a" stroke-width="1.2" />
<text x="66.90" y="522.80" font-size="16.45" text-anchor="end" fill="#000" stroke="#000" stroke-width="0.43" >1.00</text>
<line x1="165.10" y1="917.40" x2="165.10" y2="927.30" stroke="#1a1a1a" stroke-width="1.2" />
<text x="165.10" y="942.50" font-size="16.45" text-anchor="middle" fill="#000" stroke="#000" stroke-width="0.43" >May<tspan dy="1.4">−</tspan><tspan dy="-1.4">2020</tspan></text>
<line x1="276.00" y1="917.40" x2="276.00" y2="927.30" stroke="#1a1a1a" stroke-width="1.2" />
<text x="276.00" y="942.50" font-size="16.45" text-anchor="middle" fill="#000" stroke="#000" stroke-width="0.43" >Sep<tspan dy="1.4">−</tspan><tspan dy="-1.4">2020</tspan></text>
<line x1="385.90" y1="917.40" x2="385.90" y2="927.30" stroke="#1a1a1a" stroke-width="1.2" />
<text x="385.90" y="942.50" font-size="16.45" text-anchor="middle" fill="#000" stroke="#000" stroke-width="0.43" >Jan<tspan dy="1.4">−</tspan><tspan dy="-1.4">2021</tspan></text>
<line x1="493.60" y1="917.40" x2="493.60" y2="927.30" stroke="#1a1a1a" stroke-width="1.2" />
<text x="493.60" y="942.50" font-size="16.45" text-anchor="middle" fill="#000" stroke="#000" stroke-width="0.43" >May<tspan dy="1.4">−</tspan><tspan dy="-1.4">2021</tspan></text>
<text x="314.70" y="974.80" font-size="22" text-anchor="middle" fill="#000" stroke="#000" stroke-width="0.58" >Date</text>
<line x1="682.50" y1="497.60" x2="682.50" y2="917.40" stroke="#9e9e9e" stroke-width="1.4" />
<line x1="740.30" y1="497.60" x2="740.30" y2="917.40" stroke="#9e9e9e" stroke-width="1.4" />
<line x1="833.70" y1="497.60" x2="833.70" y2="917.40" stroke="#9e9e9e" stroke-width="1.4" />
<line x1="889.00" y1="497.60" x2="889.00" y2="917.40" stroke="#9e9e9e" stroke-width="1.4" />
<text x="706.10" y="745.70" font-size="22" text-anchor="middle" fill="#666666" stroke="#666666" stroke-width="0.25" transform="rotate(-90 706.10 745.70)" >General distancing</text>
<text x="763.90" y="745.70" font-size="22" text-anchor="middle" fill="#666666" stroke="#666666" stroke-width="0.25" transform="rotate(-90 763.90 745.70)" >SAH order lifted</text>
<text x="857.30" y="745.70" font-size="22" text-anchor="middle" fill="#666666" stroke="#666666" stroke-width="0.25" transform="rotate(-90 857.30 745.70)" >Open schools</text>
<text x="912.60" y="745.70" font-size="22" text-anchor="middle" fill="#666666" stroke="#666666" stroke-width="0.25" transform="rotate(-90 912.60 745.70)" >Start testing</text>
<path d="M665.50,898.50 L1092.20,898.50" fill="none" stroke="#fccd25" stroke-width="1.6" stroke-linejoin="round" />
<path d="M889.00,898.50 L890.02,898.48 L891.04,898.47 L892.06,898.45 L893.08,898.43 L894.11,898.42 L895.13,898.40 L896.15,898.39 L897.17,898.37 L898.19,898.35 L899.21,898.34 L900.23,898.32 L901.25,898.31 L902.27,898.29 L903.30,898.27 L904.32,898.26 L905.34,898.24 L906.36,898.23 L907.38,898.21 L908.40,898.19 L909.42,898.18 L910.44,898.16 L911.46,898.15 L912.49,898.13 L913.51,898.12 L914.53,898.10 L915.55,898.09 L916.57,898.07 L917.59,898.06 L918.61,898.04 L919.63,898.03 L920.65,898.01 L921.68,897.99 L922.70,897.98 L923.72,897.97 L924.74,897.95 L925.76,897.94 L926.78,897.92 L927.80,897.91 L928.82,897.89 L929.84,897.88 L930.87,897.86 L931.89,897.85 L932.91,897.83 L933.93,897.82 L934.95,897.80 L935.97,897.79 L936.99,897.78 L938.01,897.76 L939.03,897.75 L940.06,897.73 L941.08,897.72 L942.10,897.70 L943.12,897.69 L944.14,897.68 L945.16,897.66 L946.18,897.65 L947.20,897.63 L948.22,897.62 L949.25,897.61 L950.27,897.59 L951.29,897.58 L952.31,897.57 L953.33,897.55 L954.35,897.54 L955.37,897.53 L956.39,897.51 L957.41,897.50 L958.44,897.49 L959.46,897.47 L960.48,897.46 L961.50,897.45 L962.52,897.43 L963.54,897.42 L964.56,897.41 L965.58,897.40 L966.60,897.38 L967.63,897.37 L968.65,897.36 L969.67,897.35 L970.69,897.33 L971.71,897.32 L972.73,897.31 L973.75,897.30 L974.77,897.28 L975.79,897.27 L976.82,897.26 L977.84,897.25 L978.86,897.24 L979.88,897.22 L980.90,897.21 L981.92,897.20 L982.94,897.19 L983.96,897.18 L984.98,897.16 L986.01,897.15 L987.03,897.14 L988.05,897.13 L989.07,897.12 L990.09,897.11 L991.11,897.10 L992.13,897.08 L993.15,897.07 L994.17,897.06 L995.19,897.05 L996.22,897.04 L997.24,897.03 L998.26,897.02 L999.28,897.01 L1000.30,897.00 L1001.32,896.99 L1002.34,896.98 L1003.36,896.96 L1004.38,896.95 L1005.41,896.94 L1006.43,896.93 L1007.45,896.92 L1008.47,896.91 L1009.49,896.90 L1010.51,896.89 L1011.53,896.88 L1012.55,896.87 L1013.57,896.86 L1014.60,896.85 L1015.62,896.84 L1016.64,896.83 L1017.66,896.82 L1018.68,896.81 L1019.70,896.80 L1020.72,896.79 L1021.74,896.78 L1022.76,896.77 L1023.79,896.76 L1024.81,896.75 L1025.83,896.74 L1026.85,896.73 L1027.87,896.72 L1028.89,896.71 L1029.91,896.70 L1030.93,896.69 L1031.95,896.68 L1032.98,896.67 L1034.00,896.66 L1035.02,896.65 L1036.04,896.64 L1037.06,896.63 L1038.08,896.63 L1039.10,896.62 L1040.12,896.61 L1041.14,896.60 L1042.17,896.59 L1043.19,896.58 L1044.21,896.57 L1045.23,896.56 L1046.25,896.55 L1047.27,896.54 L1048.29,896.53 L1049.31,896.53 L1050.33,896.52 L1051.36,896.51 L1052.38,896.50 L1053.40,896.49 L1054.42,896.48 L1055.44,896.47 L1056.46,896.47 L1057.48,896.46 L1058.50,896.45 L1059.52,896.44 L1060.55,896.43 L1061.57,896.42 L1062.59,896.42 L1063.61,896.41 L1064.63,896.40 L1065.65,896.39 L1066.67,896.38 L1067.69,896.37 L1068.71,896.37 L1069.74,896.36 L1070.76,896.35 L1071.78,896.34 L1072.80,896.34 L1073.82,896.33 L1074.84,896.32 L1075.86,896.31 L1076.88,896.31 L1077.90,896.30 L1078.93,896.29 L1079.95,896.28 L1080.97,896.28 L1081.99,896.27 L1083.01,896.26 L1084.03,896.25 L1085.05,896.25 L1086.07,896.24 L1087.09,896.23 L1088.12,896.23 L1089.14,896.22 L1090.16,896.21 L1091.18,896.21 L1092.20,896.20" fill="none" stroke="#f2844b" stroke-width="1.6" stroke-linejoin="round" />
<path d="M889.00,898.50 L890.02,898.43 L891.04,898.36 L892.06,898.29 L893.08,898.22 L894.11,898.15 L895.13,898.08 L896.15,898.01 L897.17,897.94 L898.19,897.87 L899.21,897.80 L900.23,897.73 L901.25,897.66 L902.27,897.59 L903.30,897.52 L904.32,897.45 L905.34,897.38 L906.36,897.31 L907.38,897.25 L908.40,897.18 L909.42,897.11 L910.44,897.04 L911.46,896.97 L912.49,896.90 L913.51,896.83 L914.53,896.76 L915.55,896.70 L916.57,896.63 L917.59,896.56 L918.61,896.49 L919.63,896.42 L920.65,896.36 L921.68,896.29 L922.70,896.22 L923.72,896.15 L924.74,896.08 L925.76,896.02 L926.78,895.95 L927.80,895.88 L928.82,895.81 L929.84,895.75 L930.87,895.68 L931.89,895.61 L932.91,895.54 L933.93,895.48 L934.95,895.41 L935.97,895.34 L936.99,895.28 L938.01,895.21 L939.03,895.14 L940.06,895.08 L941.08,895.01 L942.10,894.94 L943.12,894.88 L944.14,894.81 L945.16,894.75 L946.18,894.68 L947.20,894.61 L948.22,894.55 L949.25,894.48 L950.27,894.42 L951.29,894.35 L952.31,894.28 L953.33,894.22 L954.35,894.15 L955.37,894.09 L956.39,894.02 L957.41,893.96 L958.44,893.89 L959.46,893.83 L960.48,893.76 L961.50,893.70 L962.52,893.63 L963.54,893.57 L964.56,893.50 L965.58,893.44 L966.60,893.37 L967.63,893.31 L968.65,893.24 L969.67,893.18 L970.69,893.11 L971.71,893.05 L972.73,892.99 L973.75,892.92 L974.77,892.86 L975.79,892.79 L976.82,892.73 L977.84,892.67 L978.86,892.60 L979.88,892.54 L980.90,892.48 L981.92,892.41 L982.94,892.35 L983.96,892.28 L984.98,892.22 L986.01,892.16 L987.03,892.10 L988.05,892.03 L989.07,891.97 L990.09,891.91 L991.11,891.84 L992.13,891.78 L993.15,891.72 L994.17,891.66 L995.19,891.59 L996.22,891.53 L997.24,891.47 L998.26,891.41 L999.28,891.34 L1000.30,891.28 L1001.32,891.22 L1002.34,891.16 L1003.36,891.10 L1004.38,891.03 L1005.41,890.97 L1006.43,890.91 L1007.45,890.85 L1008.47,890.79 L1009.49,890.73 L1010.51,890.66 L1011.53,890.60 L1012.55,890.54 L1013.57,890.48 L1014.60,890.42 L1015.62,890.36 L1016.64,890.30 L1017.66,890.24 L1018.68,890.18 L1019.70,890.12 L1020.72,890.05 L1021.74,889.99 L1022.76,889.93 L1023.79,889.87 L1024.81,889.81 L1025.83,889.75 L1026.85,889.69 L1027.87,889.63 L1028.89,889.57 L1029.91,889.51 L1030.93,889.45 L1031.95,889.39 L1032.98,889.33 L1034.00,889.27 L1035.02,889.21 L1036.04,889.15 L1037.06,889.10 L1038.08,889.04 L1039.10,888.98 L1040.12,888.92 L1041.14,888.86 L1042.17,888.80 L1043.19,888.74 L1044.21,888.68 L1045.23,888.62 L1046.25,888.56 L1047.27,888.51 L1048.29,888.45 L1049.31,888.39 L1050.33,888.33 L1051.36,888.27 L1052.38,888.21 L1053.40,888.16 L1054.42,888.10 L1055.44,888.04 L1056.46,887.98 L1057.48,887.92 L1058.50,887.87 L1059.52,887.81 L1060.55,887.75 L1061.57,887.69 L1062.59,887.63 L1063.61,887.58 L1064.63,887.52 L1065.65,887.46 L1066.67,887.41 L1067.69,887.35 L1068.71,887.29 L1069.74,887.23 L1070.76,887.18 L1071.78,887.12 L1072.80,887.06 L1073.82,887.01 L1074.84,886.95 L1075.86,886.89 L1076.88,886.84 L1077.90,886.78 L1078.93,886.72 L1079.95,886.67 L1080.97,886.61 L1081.99,886.56 L1083.01,886.50 L1084.03,886.44 L1085.05,886.39 L1086.07,886.33 L1087.09,886.28 L1088.12,886.22 L1089.14,886.17 L1090.16,886.11 L1091.18,886.06 L1092.20,886.00" fill="none" stroke="#cb4679" stroke-width="1.6" stroke-linejoin="round" />
<path d="M889.00,898.50 L890.02,898.44 L891.04,898.38 L892.06,898.32 L893.08,898.26 L894.11,898.20 L895.13,898.14 L896.15,898.08 L897.17,898.02 L898.19,897.96 L899.21,897.90 L900.23,897.84 L901.25,897.78 L902.27,897.72 L903.30,897.66 L904.32,897.60 L905.34,897.54 L906.36,897.48 L907.38,897.42 L908.40,897.36 L909.42,897.30 L910.44,897.24 L911.46,897.18 L912.49,897.12 L913.51,897.06 L914.53,897.00 L915.55,896.94 L916.57,896.88 L917.59,896.82 L918.61,896.76 L919.63,896.70 L920.65,896.65 L921.68,896.59 L922.70,896.53 L923.72,896.47 L924.74,896.41 L925.76,896.35 L926.78,896.29 L927.80,896.23 L928.82,896.17 L929.84,896.12 L930.87,896.06 L931.89,896.00 L932.91,895.94 L933.93,895.88 L934.95,895.82 L935.97,895.77 L936.99,895.71 L938.01,895.65 L939.03,895.59 L940.06,895.53 L941.08,895.47 L942.10,895.42 L943.12,895.36 L944.14,895.30 L945.16,895.24 L946.18,895.18 L947.20,895.13 L948.22,895.07 L949.25,895.01 L950.27,894.95 L951.29,894.90 L952.31,894.84 L953.33,894.78 L954.35,894.72 L955.37,894.67 L956.39,894.61 L957.41,894.55 L958.44,894.49 L959.46,894.44 L960.48,894.38 L961.50,894.32 L962.52,894.26 L963.54,894.21 L964.56,894.15 L965.58,894.09 L966.60,894.04 L967.63,893.98 L968.65,893.92 L969.67,893.87 L970.69,893.81 L971.71,893.75 L972.73,893.70 L973.75,893.64 L974.77,893.58 L975.79,893.53 L976.82,893.47 L977.84,893.41 L978.86,893.36 L979.88,893.30 L980.90,893.24 L981.92,893.19 L982.94,893.13 L983.96,893.08 L984.98,893.02 L986.01,892.96 L987.03,892.91 L988.05,892.85 L989.07,892.80 L990.09,892.74 L991.11,892.68 L992.13,892.63 L993.15,892.57 L994.17,892.52 L995.19,892.46 L996.22,892.41 L997.24,892.35 L998.26,892.29 L999.28,892.24 L1000.30,892.18 L1001.32,892.13 L1002.34,892.07 L1003.36,892.02 L1004.38,891.96 L1005.41,891.91 L1006.43,891.85 L1007.45,891.80 L1008.47,891.74 L1009.49,891.69 L1010.51,891.63 L1011.53,891.58 L1012.55,891.52 L1013.57,891.47 L1014.60,891.41 L1015.62,891.36 L1016.64,891.30 L1017.66,891.25 L1018.68,891.20 L1019.70,891.14 L1020.72,891.09 L1021.74,891.03 L1022.76,890.98 L1023.79,890.92 L1024.81,890.87 L1025.83,890.82 L1026.85,890.76 L1027.87,890.71 L1028.89,890.65 L1029.91,890.60 L1030.93,890.55 L1031.95,890.49 L1032.98,890.44 L1034.00,890.38 L1035.02,890.33 L1036.04,890.28 L1037.06,890.22 L1038.08,890.17 L1039.10,890.12 L1040.12,890.06 L1041.14,890.01 L1042.17,889.96 L1043.19,889.90 L1044.21,889.85 L1045.23,889.80 L1046.25,889.74 L1047.27,889.69 L1048.29,889.64 L1049.31,889.58 L1050.33,889.53 L1051.36,889.48 L1052.38,889.42 L1053.40,889.37 L1054.42,889.32 L1055.44,889.27 L1056.46,889.21 L1057.48,889.16 L1058.50,889.11 L1059.52,889.06 L1060.55,889.00 L1061.57,888.95 L1062.59,888.90 L1063.61,888.85 L1064.63,888.79 L1065.65,888.74 L1066.67,888.69 L1067.69,888.64 L1068.71,888.59 L1069.74,888.53 L1070.76,888.48 L1071.78,888.43 L1072.80,888.38 L1073.82,888.33 L1074.84,888.27 L1075.86,888.22 L1076.88,888.17 L1077.90,888.12 L1078.93,888.07 L1079.95,888.02 L1080.97,887.96 L1081.99,887.91 L1083.01,887.86 L1084.03,887.81 L1085.05,887.76 L1086.07,887.71 L1087.09,887.66 L1088.12,887.60 L1089.14,887.55 L1090.16,887.50 L1091.18,887.45 L1092.20,887.40" fill="none" stroke="#cb4679" stroke-width="1.6" stroke-linejoin="round" stroke-dasharray="5.5 5.5" />
<path d="M889.00,898.50 L890.02,897.93 L891.04,897.37 L892.06,896.81 L893.08,896.24 L894.11,895.68 L895.13,895.12 L896.15,894.56 L897.17,894.00 L898.19,893.43 L899.21,892.87 L900.23,892.32 L901.25,891.76 L902.27,891.20 L903.30,890.64 L904.32,890.08 L905.34,889.53 L906.36,888.97 L907.38,888.42 L908.40,887.86 L909.42,887.31 L910.44,886.75 L911.46,886.20 L912.49,885.65 L913.51,885.10 L914.53,884.55 L915.55,884.00 L916.57,883.45 L917.59,882.90 L918.61,882.35 L919.63,881.80 L920.65,881.25 L921.68,880.71 L922.70,880.16 L923.72,879.61 L924.74,879.07 L925.76,878.52 L926.78,877.98 L927.80,877.44 L928.82,876.89 L929.84,876.35 L930.87,875.81 L931.89,875.27 L932.91,874.73 L933.93,874.19 L934.95,873.65 L935.97,873.11 L936.99,872.57 L938.01,872.04 L939.03,871.50 L940.06,870.96 L941.08,870.43 L942.10,869.89 L943.12,869.36 L944.14,868.82 L945.16,868.29 L946.18,867.76 L947.20,867.22 L948.22,866.69 L949.25,866.16 L950.27,865.63 L951.29,865.10 L952.31,864.57 L953.33,864.04 L954.35,863.51 L955.37,862.99 L956.39,862.46 L957.41,861.93 L958.44,861.41 L959.46,860.88 L960.48,860.36 L961.50,859.83 L962.52,859.31 L963.54,858.79 L964.56,858.26 L965.58,857.74 L966.60,857.22 L967.63,856.70 L968.65,856.18 L969.67,855.66 L970.69,855.14 L971.71,854.63 L972.73,854.11 L973.75,853.59 L974.77,853.07 L975.79,852.56 L976.82,852.04 L977.84,851.53 L978.86,851.01 L979.88,850.50 L980.90,849.99 L981.92,849.48 L982.94,848.96 L983.96,848.45 L984.98,847.94 L986.01,847.43 L987.03,846.92 L988.05,846.41 L989.07,845.90 L990.09,845.40 L991.11,844.89 L992.13,844.38 L993.15,843.88 L994.17,843.37 L995.19,842.87 L996.22,842.36 L997.24,841.86 L998.26,841.36 L999.28,840.85 L1000.30,840.35 L1001.32,839.85 L1002.34,839.35 L1003.36,838.85 L1004.38,838.35 L1005.41,837.85 L1006.43,837.35 L1007.45,836.86 L1008.47,836.36 L1009.49,835.86 L1010.51,835.37 L1011.53,834.87 L1012.55,834.38 L1013.57,833.88 L1014.60,833.39 L1015.62,832.90 L1016.64,832.40 L1017.66,831.91 L1018.68,831.42 L1019.70,830.93 L1020.72,830.44 L1021.74,829.95 L1022.76,829.46 L1023.79,828.97 L1024.81,828.49 L1025.83,828.00 L1026.85,827.51 L1027.87,827.03 L1028.89,826.54 L1029.91,826.06 L1030.93,825.57 L1031.95,825.09 L1032.98,824.61 L1034.00,824.12 L1035.02,823.64 L1036.04,823.16 L1037.06,822.68 L1038.08,822.20 L1039.10,821.72 L1040.12,821.24 L1041.14,820.76 L1042.17,820.28 L1043.19,819.81 L1044.21,819.33 L1045.23,818.86 L1046.25,818.38 L1047.27,817.91 L1048.29,817.43 L1049.31,816.96 L1050.33,816.48 L1051.36,816.01 L1052.38,815.54 L1053.40,815.07 L1054.42,814.60 L1055.44,814.13 L1056.46,813.66 L1057.48,813.19 L1058.50,812.72 L1059.52,812.25 L1060.55,811.79 L1061.57,811.32 L1062.59,810.86 L1063.61,810.39 L1064.63,809.93 L1065.65,809.46 L1066.67,809.00 L1067.69,808.53 L1068.71,808.07 L1069.74,807.61 L1070.76,807.15 L1071.78,806.69 L1072.80,806.23 L1073.82,805.77 L1074.84,805.31 L1075.86,804.85 L1076.88,804.39 L1077.90,803.94 L1078.93,803.48 L1079.95,803.03 L1080.97,802.57 L1081.99,802.12 L1083.01,801.66 L1084.03,801.21 L1085.05,800.75 L1086.07,800.30 L1087.09,799.85 L1088.12,799.40 L1089.14,798.95 L1090.16,798.50 L1091.18,798.05 L1092.20,797.60" fill="none" stroke="#8f0da4" stroke-width="1.6" stroke-linejoin="round" />
<path d="M889.00,898.50 L890.02,898.02 L891.04,897.55 L892.06,897.07 L893.08,896.60 L894.11,896.12 L895.13,895.65 L896.15,895.18 L897.17,894.70 L898.19,894.23 L899.21,893.76 L900.23,893.29 L901.25,892.82 L902.27,892.35 L903.30,891.88 L904.32,891.41 L905.34,890.95 L906.36,890.48 L907.38,890.01 L908.40,889.55 L909.42,889.08 L910.44,888.62 L911.46,888.15 L912.49,887.69 L913.51,887.22 L914.53,886.76 L915.55,886.30 L916.57,885.84 L917.59,885.38 L918.61,884.92 L919.63,884.46 L920.65,884.00 L921.68,883.54 L922.70,883.08 L923.72,882.62 L924.74,882.17 L925.76,881.71 L926.78,881.26 L927.80,880.80 L928.82,880.35 L929.84,879.89 L930.87,879.44 L931.89,878.99 L932.91,878.53 L933.93,878.08 L934.95,877.63 L935.97,877.18 L936.99,876.73 L938.01,876.28 L939.03,875.83 L940.06,875.39 L941.08,874.94 L942.10,874.49 L943.12,874.04 L944.14,873.60 L945.16,873.15 L946.18,872.71 L947.20,872.27 L948.22,871.82 L949.25,871.38 L950.27,870.94 L951.29,870.49 L952.31,870.05 L953.33,869.61 L954.35,869.17 L955.37,868.73 L956.39,868.29 L957.41,867.86 L958.44,867.42 L959.46,866.98 L960.48,866.55 L961.50,866.11 L962.52,865.67 L963.54,865.24 L964.56,864.81 L965.58,864.37 L966.60,863.94 L967.63,863.51 L968.65,863.07 L969.67,862.64 L970.69,862.21 L971.71,861.78 L972.73,861.35 L973.75,860.92 L974.77,860.50 L975.79,860.07 L976.82,859.64 L977.84,859.21 L978.86,858.79 L979.88,858.36 L980.90,857.94 L981.92,857.51 L982.94,857.09 L983.96,856.67 L984.98,856.25 L986.01,855.82 L987.03,855.40 L988.05,854.98 L989.07,854.56 L990.09,854.14 L991.11,853.72 L992.13,853.30 L993.15,852.89 L994.17,852.47 L995.19,852.05 L996.22,851.64 L997.24,851.22 L998.26,850.81 L999.28,850.39 L1000.30,849.98 L1001.32,849.57 L1002.34,849.15 L1003.36,848.74 L1004.38,848.33 L1005.41,847.92 L1006.43,847.51 L1007.45,847.10 L1008.47,846.69 L1009.49,846.28 L1010.51,845.87 L1011.53,845.47 L1012.55,845.06 L1013.57,844.65 L1014.60,844.25 L1015.62,843.84 L1016.64,843.44 L1017.66,843.03 L1018.68,842.63 L1019.70,842.23 L1020.72,841.82 L1021.74,841.42 L1022.76,841.02 L1023.79,840.62 L1024.81,840.22 L1025.83,839.82 L1026.85,839.42 L1027.87,839.03 L1028.89,838.63 L1029.91,838.23 L1030.93,837.83 L1031.95,837.44 L1032.98,837.04 L1034.00,836.65 L1035.02,836.25 L1036.04,835.86 L1037.06,835.47 L1038.08,835.07 L1039.10,834.68 L1040.12,834.29 L1041.14,833.90 L1042.17,833.51 L1043.19,833.12 L1044.21,832.73 L1045.23,832.34 L1046.25,831.96 L1047.27,831.57 L1048.29,831.18 L1049.31,830.80 L1050.33,830.41 L1051.36,830.02 L1052.38,829.64 L1053.40,829.26 L1054.42,828.87 L1055.44,828.49 L1056.46,828.11 L1057.48,827.73 L1058.50,827.35 L1059.52,826.97 L1060.55,826.59 L1061.57,826.21 L1062.59,825.83 L1063.61,825.45 L1064.63,825.07 L1065.65,824.70 L1066.67,824.32 L1067.69,823.94 L1068.71,823.57 L1069.74,823.19 L1070.76,822.82 L1071.78,822.45 L1072.80,822.07 L1073.82,821.70 L1074.84,821.33 L1075.86,820.96 L1076.88,820.59 L1077.90,820.22 L1078.93,819.85 L1079.95,819.48 L1080.97,819.11 L1081.99,818.74 L1083.01,818.38 L1084.03,818.01 L1085.05,817.64 L1086.07,817.28 L1087.09,816.91 L1088.12,816.55 L1089.14,816.19 L1090.16,815.82 L1091.18,815.46 L1092.20,815.10" fill="none" stroke="#8f0da4" stroke-width="1.6" stroke-linejoin="round" stroke-dasharray="5.5 5.5" />
<path d="M889.00,898.50 L889.33,897.06 L889.65,895.61 L889.98,894.17 L890.30,892.72 L890.62,891.27 L890.93,889.83 L891.25,888.38 L891.56,886.93 L891.87,885.47 L892.18,884.02 L892.49,882.57 L892.79,881.11 L893.10,879.66 L893.40,878.20 L893.70,876.75 L894.00,875.29 L894.29,873.83 L894.59,872.37 L894.89,870.91 L895.18,869.45 L895.47,867.99 L895.77,866.53 L896.06,865.07 L896.35,863.61 L896.64,862.15 L896.93,860.68 L897.22,859.22 L897.50,857.76 L897.79,856.29 L898.08,854.83 L898.37,853.36 L898.65,851.90 L898.94,850.43 L899.23,848.97 L899.51,847.50 L899.80,846.03 L900.09,844.57 L900.38,843.10 L900.67,841.64 L900.95,840.17 L901.24,838.70 L901.53,837.24 L901.82,835.77 L902.12,834.31 L902.41,832.84 L902.70,831.37 L903.00,829.91 L903.29,828.44 L903.59,826.98 L903.89,825.51 L904.18,824.05 L904.49,822.59 L904.79,821.12 L905.09,819.66 L905.40,818.20 L905.70,816.73 L906.01,815.27 L906.32,813.81 L906.64,812.35 L906.95,810.89 L907.27,809.43 L907.59,807.97 L907.91,806.51 L908.23,805.05 L908.56,803.60 L908.89,802.14 L909.22,800.68 L909.55,799.23 L909.89,797.77 L910.23,796.32 L910.57,794.87 L910.92,793.42 L911.27,791.97 L911.62,790.52 L911.97,789.07 L912.33,787.62 L912.69,786.18 L913.06,784.73 L913.43,783.29 L913.80,781.85 L914.18,780.40 L914.56,778.96 L914.94,777.53 L915.33,776.09 L915.72,774.65 L916.12,773.22 L916.52,771.78 L916.92,770.35 L917.33,768.92 L917.74,767.49 L918.16,766.06 L918.58,764.64 L919.01,763.21 L919.44,761.79 L919.88,760.37 L920.32,758.95 L920.76,757.53 L921.22,756.11 L921.67,754.70 L922.13,753.28 L922.60,751.87 L923.07,750.46 L923.55,749.05 L924.03,747.65 L924.51,746.24 L925.00,744.84 L925.50,743.44 L926.00,742.04 L926.50,740.64 L927.01,739.24 L927.52,737.85 L928.04,736.46 L928.56,735.06 L929.09,733.67 L929.62,732.29 L930.15,730.90 L930.69,729.51 L931.24,728.13 L931.79,726.75 L932.34,725.37 L932.90,723.99 L933.46,722.61 L934.02,721.24 L934.59,719.87 L935.17,718.49 L935.75,717.12 L936.33,715.75 L936.91,714.39 L937.50,713.02 L938.10,711.66 L938.70,710.30 L939.30,708.93 L939.90,707.58 L940.51,706.22 L941.13,704.86 L941.74,703.51 L942.37,702.15 L942.99,700.80 L943.62,699.45 L944.25,698.11 L944.89,696.76 L945.53,695.41 L946.17,694.07 L946.82,692.73 L947.47,691.39 L948.12,690.05 L948.78,688.71 L949.44,687.38 L950.10,686.04 L950.77,684.71 L951.44,683.38 L952.11,682.05 L952.79,680.72 L953.47,679.39 L954.15,678.07 L954.84,676.75 L955.53,675.42 L956.22,674.10 L956.92,672.79 L957.62,671.47 L958.32,670.15 L959.03,668.84 L959.73,667.53 L960.45,666.21 L961.16,664.90 L961.88,663.60 L962.60,662.29 L963.32,660.98 L964.04,659.68 L964.77,658.38 L965.50,657.08 L966.23,655.78 L966.97,654.48 L967.71,653.18 L968.45,651.89 L969.19,650.59 L969.94,649.30 L970.69,648.01 L971.44,646.72 L972.19,645.43 L972.95,644.15 L973.71,642.86 L974.47,641.58 L975.23,640.30 L976.00,639.02 L976.76,637.74 L977.53,636.46 L978.30,635.19 L979.08,633.91 L979.85,632.64 L980.63,631.37 L981.41,630.10 L982.19,628.83 L982.98,627.56 L983.76,626.29 L984.55,625.03 L985.34,623.76 L986.13,622.50 L986.93,621.24 L987.72,619.98 L988.52,618.73 L989.32,617.47 L990.12,616.21 L990.92,614.96 L991.73,613.71 L992.54,612.46 L993.35,611.21 L994.16,609.96 L994.97,608.72 L995.79,607.47 L996.61,606.23 L997.43,604.99 L998.25,603.75 L999.08,602.52 L999.91,601.28 L1000.74,600.05 L1001.58,598.82 L1002.41,597.59 L1003.26,596.36 L1004.10,595.14 L1004.95,593.91 L1005.80,592.69 L1006.65,591.47 L1007.50,590.25 L1008.36,589.04 L1009.23,587.82 L1010.09,586.61 L1010.96,585.40 L1011.84,584.19 L1012.71,582.99 L1013.59,581.79 L1014.48,580.59 L1015.36,579.39 L1016.25,578.19 L1017.15,577.00 L1018.05,575.81 L1018.95,574.62 L1019.86,573.43 L1020.77,572.25 L1021.68,571.06 L1022.60,569.88 L1023.53,568.71 L1024.46,567.54 L1025.39,566.37 L1026.33,565.21 L1027.28,564.05 L1028.23,562.90 L1029.19,561.75 L1030.16,560.62 L1031.13,559.49 L1032.12,558.36 L1033.11,557.25 L1034.11,556.14 L1035.11,555.05 L1036.13,553.96 L1037.16,552.89 L1038.19,551.82 L1039.24,550.77 L1040.30,549.73 L1041.36,548.70 L1042.44,547.68 L1043.53,546.68 L1044.64,545.69 L1045.75,544.72 L1046.88,543.76 L1048.02,542.82 L1049.17,541.89 L1050.34,540.98 L1051.52,540.08 L1052.71,539.20 L1053.91,538.34 L1055.13,537.50 L1056.36,536.67 L1057.60,535.86 L1058.85,535.07 L1060.11,534.30 L1061.39,533.55 L1062.68,532.82 L1063.98,532.10 L1065.29,531.41 L1066.61,530.74 L1067.94,530.09 L1069.29,529.46 L1070.64,528.85 L1072.01,528.26 L1073.39,527.70 L1074.77,527.15 L1076.17,526.63 L1077.58,526.14 L1079.00,525.66 L1080.43,525.21 L1081.87,524.79 L1083.31,524.38 L1084.77,524.01 L1086.24,523.65 L1087.71,523.33 L1089.20,523.03 L1090.70,522.75 L1092.20,522.50" fill="none" stroke="#41049d" stroke-width="1.6" stroke-linejoin="round" />
<path d="M889.00,898.50 L889.23,897.50 L889.46,896.51 L889.69,895.51 L889.93,894.52 L890.16,893.53 L890.39,892.54 L890.63,891.56 L890.87,890.57 L891.10,889.59 L891.34,888.60 L891.58,887.62 L891.82,886.64 L892.06,885.66 L892.30,884.68 L892.55,883.71 L892.79,882.73 L893.03,881.76 L893.28,880.78 L893.52,879.81 L893.77,878.84 L894.02,877.87 L894.27,876.90 L894.52,875.93 L894.77,874.96 L895.02,873.99 L895.27,873.03 L895.52,872.06 L895.78,871.10 L896.03,870.13 L896.29,869.17 L896.54,868.21 L896.80,867.24 L897.06,866.28 L897.32,865.32 L897.58,864.36 L897.84,863.40 L898.10,862.44 L898.36,861.48 L898.62,860.52 L898.89,859.56 L899.15,858.60 L899.42,857.64 L899.68,856.68 L899.95,855.72 L900.22,854.77 L900.48,853.81 L900.75,852.85 L901.02,851.89 L901.29,850.93 L901.57,849.97 L901.84,849.01 L902.11,848.06 L902.39,847.10 L902.66,846.14 L902.94,845.18 L903.21,844.22 L903.49,843.26 L903.77,842.30 L904.05,841.33 L904.32,840.37 L904.61,839.41 L904.89,838.45 L905.17,837.48 L905.45,836.52 L905.73,835.56 L906.02,834.59 L906.30,833.62 L906.59,832.66 L906.87,831.69 L907.16,830.72 L907.45,829.75 L907.74,828.78 L908.02,827.81 L908.32,826.84 L908.61,825.87 L908.90,824.89 L909.19,823.92 L909.49,822.95 L909.79,821.97 L910.09,821.00 L910.39,820.03 L910.69,819.06 L911.00,818.08 L911.31,817.11 L911.62,816.14 L911.93,815.17 L912.25,814.20 L912.57,813.23 L912.90,812.27 L913.23,811.30 L913.56,810.34 L913.90,809.38 L914.24,808.42 L914.58,807.46 L914.93,806.51 L915.28,805.55 L915.64,804.60 L916.01,803.65 L916.38,802.71 L916.75,801.77 L917.13,800.83 L917.51,799.89 L917.90,798.96 L918.30,798.03 L918.70,797.10 L919.11,796.18 L919.53,795.26 L919.95,794.34 L920.38,793.43 L920.82,792.52 L921.26,791.62 L921.71,790.72 L922.17,789.83 L922.63,788.94 L923.11,788.05 L923.59,787.17 L924.08,786.30 L924.58,785.43 L925.08,784.56 L925.60,783.71 L926.12,782.85 L926.65,782.01 L927.20,781.17 L927.75,780.33 L928.31,779.50 L928.88,778.68 L929.46,777.86 L930.04,777.05 L930.64,776.25 L931.25,775.46 L931.87,774.67 L932.50,773.89 L933.13,773.12 L933.78,772.36 L934.43,771.61 L935.10,770.87 L935.77,770.13 L936.46,769.41 L937.15,768.70 L937.85,767.99 L938.57,767.30 L939.29,766.62 L940.02,765.94 L940.76,765.28 L941.51,764.64 L942.27,764.00 L943.04,763.38 L943.82,762.77 L944.61,762.17 L945.40,761.58 L946.21,761.01 L947.03,760.45 L947.85,759.90 L948.68,759.37 L949.52,758.84 L950.37,758.34 L951.23,757.84 L952.09,757.35 L952.97,756.88 L953.85,756.42 L954.73,755.98 L955.63,755.54 L956.53,755.12 L957.43,754.71 L958.35,754.31 L959.26,753.93 L960.19,753.55 L961.12,753.19 L962.05,752.84 L963.00,752.51 L963.94,752.18 L964.89,751.87 L965.85,751.56 L966.81,751.27 L967.77,751.00 L968.74,750.73 L969.71,750.47 L970.69,750.23 L971.67,749.99 L972.65,749.77 L973.63,749.55 L974.62,749.34 L975.62,749.15 L976.61,748.96 L977.61,748.78 L978.61,748.61 L979.61,748.44 L980.61,748.29 L981.62,748.14 L982.63,748.00 L983.64,747.86 L984.65,747.73 L985.67,747.61 L986.68,747.50 L987.70,747.39 L988.71,747.28 L989.73,747.18 L990.75,747.09 L991.77,746.99 L992.78,746.91 L993.80,746.83 L994.82,746.75 L995.84,746.67 L996.86,746.60 L997.88,746.53 L998.90,746.46 L999.91,746.39 L1000.93,746.33 L1001.94,746.27 L1002.96,746.21 L1003.97,746.15 L1004.98,746.09 L1005.99,746.04 L1007.00,745.98 L1008.01,745.93 L1009.02,745.88 L1010.03,745.83 L1011.04,745.78 L1012.04,745.73 L1013.05,745.69 L1014.05,745.64 L1015.06,745.60 L1016.06,745.56 L1017.07,745.52 L1018.07,745.48 L1019.07,745.44 L1020.07,745.40 L1021.07,745.36 L1022.07,745.33 L1023.08,745.29 L1024.07,745.26 L1025.07,745.22 L1026.07,745.19 L1027.07,745.16 L1028.07,745.13 L1029.07,745.10 L1030.06,745.07 L1031.06,745.04 L1032.06,745.01 L1033.06,744.98 L1034.05,744.95 L1035.05,744.93 L1036.04,744.90 L1037.04,744.87 L1038.04,744.84 L1039.03,744.82 L1040.03,744.79 L1041.02,744.77 L1042.02,744.74 L1043.01,744.71 L1044.01,744.69 L1045.00,744.66 L1046.00,744.64 L1046.99,744.61 L1047.99,744.58 L1048.98,744.56 L1049.98,744.53 L1050.98,744.51 L1051.97,744.48 L1052.97,744.45 L1053.96,744.42 L1054.96,744.40 L1055.96,744.37 L1056.95,744.34 L1057.95,744.31 L1058.95,744.28 L1059.95,744.25 L1060.95,744.22 L1061.94,744.18 L1062.94,744.15 L1063.94,744.12 L1064.94,744.08 L1065.94,744.05 L1066.95,744.01 L1067.95,743.98 L1068.95,743.94 L1069.95,743.90 L1070.96,743.86 L1071.96,743.82 L1072.96,743.77 L1073.97,743.73 L1074.98,743.69 L1075.98,743.64 L1076.99,743.59 L1078.00,743.54 L1079.01,743.49 L1080.02,743.44 L1081.03,743.39 L1082.04,743.34 L1083.05,743.28 L1084.06,743.22 L1085.08,743.16 L1086.09,743.10 L1087.11,743.04 L1088.12,742.98 L1089.14,742.91 L1090.16,742.84 L1091.18,742.77 L1092.20,742.70" fill="none" stroke="#41049d" stroke-width="1.6" stroke-linejoin="round" stroke-dasharray="5.5 5.5" />
<line x1="644.40" y1="497.00" x2="644.40" y2="917.90" stroke="#1a1a1a" stroke-width="0.9" />
<line x1="643.90" y1="917.40" x2="1113.60" y2="917.40" stroke="#1a1a1a" stroke-width="0.9" />
<line x1="634.50" y1="898.50" x2="644.40" y2="898.50" stroke="#1a1a1a" stroke-width="1.2" />
<text x="631.20" y="904.40" font-size="16.45" text-anchor="end" fill="#000" stroke="#000" stroke-width="0.43" >0.00</text>
<line x1="634.50" y1="803.10" x2="644.40" y2="803.10" stroke="#1a1a1a" stroke-width="1.2" />
<text x="631.20" y="809.00" font-size="16.45" text-anchor="end" fill="#000" stroke="#000" stroke-width="0.43" >0.25</text>
<line x1="634.50" y1="707.70" x2="644.40" y2="707.70" stroke="#1a1a1a" stroke-width="1.2" />
<text x="631.20" y="713.60" font-size="16.45" text-anchor="end" fill="#000" stroke="#000" stroke-width="0.43" >0.50</text>
<line x1="634.50" y1="612.30" x2="644.40" y2="612.30" stroke="#1a1a1a" stroke-width="1.2" />
<text x="631.20" y="618.20" font-size="16.45" text-anchor="end" fill="#000" stroke="#000" stroke-width="0.43" >0.75</text>
<line x1="634.50" y1="516.90" x2="644.40" y2="516.90" stroke="#1a1a1a" stroke-width="1.2" />
<text x="631.20" y="522.80" font-size="16.45" text-anchor="end" fill="#000" stroke="#000" stroke-width="0.43" >1.00</text>
<line x1="751.00" y1="917.40" x2="751.00" y2="927.30" stroke="#1a1a1a" stroke-width="1.2" />
<text x="751.00" y="942.50" font-size="16.45" text-anchor="middle" fill="#000" stroke="#000" stroke-width="0.43" >Jun<tspan dy="1.4">−</tspan><tspan dy="-1.4">2020</tspan></text>
<line x1="860.50" y1="917.40" x2="860.50" y2="927.30" stroke="#1a1a1a" stroke-width="1.2" />
<text x="860.50" y="942.50" font-size="16.45" text-anchor="middle" fill="#000" stroke="#000" stroke-width="0.43" >Oct<tspan dy="1.4">−</tspan><tspan dy="-1.4">2020</tspan></text>
<line x1="971.70" y1="917.40" x2="971.70" y2="927.30" stroke="#1a1a1a" stroke-width="1.2" />
<text x="971.70" y="942.50" font-size="16.45" text-anchor="middle" fill="#000" stroke="#000" stroke-width="0.43" >Feb<tspan dy="1.4">−</tspan><tspan dy="-1.4">2021</tspan></text>
<line x1="1079.60" y1="917.40" x2="1079.60" y2="927.30" stroke="#1a1a1a" stroke-width="1.2" />
<text x="1079.60" y="942.50" font-size="16.45" text-anchor="middle" fill="#000" stroke="#000" stroke-width="0.43" >Jun<tspan dy="1.4">−</tspan><tspan dy="-1.4">2021</tspan></text>
<text x="879.00" y="974.80" font-size="22" text-anchor="middle" fill="#000" stroke="#000" stroke-width="0.58" >Date</text>
<line x1="1258.60" y1="497.60" x2="1258.60" y2="917.40" stroke="#9e9e9e" stroke-width="1.4" />
<line x1="1326.80" y1="497.60" x2="1326.80" y2="917.40" stroke="#9e9e9e" stroke-width="1.4" />
<line x1="1437.30" y1="497.60" x2="1437.30" y2="917.40" stroke="#9e9e9e" stroke-width="1.4" />
<line x1="1465.80" y1="497.60" x2="1465.80" y2="917.40" stroke="#9e9e9e" stroke-width="1.4" />
<text x="1282.20" y="745.70" font-size="22" text-anchor="middle" fill="#666666" stroke="#666666" stroke-width="0.25" transform="rotate(-90 1282.20 745.70)" >General distancing</text>
<text x="1350.40" y="745.70" font-size="22" text-anchor="middle" fill="#666666" stroke="#666666" stroke-width="0.25" transform="rotate(-90 1350.40 745.70)" >SAH order lifted</text>
<text x="1460.90" y="745.70" font-size="22" text-anchor="middle" fill="#666666" stroke="#666666" stroke-width="0.25" transform="rotate(-90 1460.90 745.70)" >Open schools</text>
<text x="1489.40" y="745.70" font-size="22" text-anchor="middle" fill="#666666" stroke="#666666" stroke-width="0.25" transform="rotate(-90 1489.40 745.70)" >Start testing</text>
<path d="M1229.50,898.50 L1656.20,898.50" fill="none" stroke="#fccd25" stroke-width="1.6" stroke-linejoin="round" />
<path d="M1465.80,898.50 L1466.76,898.45 L1467.71,898.40 L1468.67,898.35 L1469.63,898.30 L1470.58,898.25 L1471.54,898.20 L1472.50,898.14 L1473.45,898.09 L1474.41,898.04 L1475.37,897.99 L1476.32,897.94 L1477.28,897.88 L1478.24,897.83 L1479.19,897.77 L1480.15,897.72 L1481.10,897.67 L1482.06,897.61 L1483.02,897.56 L1483.97,897.50 L1484.93,897.45 L1485.89,897.39 L1486.84,897.34 L1487.80,897.28 L1488.76,897.22 L1489.71,897.17 L1490.67,897.11 L1491.62,897.05 L1492.58,897.00 L1493.54,896.94 L1494.49,896.88 L1495.45,896.83 L1496.41,896.77 L1497.36,896.71 L1498.32,896.65 L1499.28,896.59 L1500.23,896.54 L1501.19,896.48 L1502.14,896.42 L1503.10,896.36 L1504.06,896.30 L1505.01,896.24 L1505.97,896.18 L1506.93,896.12 L1507.88,896.06 L1508.84,896.01 L1509.79,895.95 L1510.75,895.89 L1511.71,895.83 L1512.66,895.77 L1513.62,895.71 L1514.57,895.65 L1515.53,895.59 L1516.49,895.53 L1517.44,895.47 L1518.40,895.41 L1519.36,895.35 L1520.31,895.29 L1521.27,895.23 L1522.22,895.17 L1523.18,895.11 L1524.14,895.05 L1525.09,894.99 L1526.05,894.93 L1527.01,894.87 L1527.96,894.81 L1528.92,894.75 L1529.87,894.69 L1530.83,894.63 L1531.79,894.57 L1532.74,894.51 L1533.70,894.45 L1534.65,894.39 L1535.61,894.33 L1536.57,894.27 L1537.52,894.21 L1538.48,894.15 L1539.44,894.09 L1540.39,894.03 L1541.35,893.97 L1542.30,893.91 L1543.26,893.85 L1544.22,893.80 L1545.17,893.74 L1546.13,893.68 L1547.09,893.62 L1548.04,893.56 L1549.00,893.50 L1549.95,893.45 L1550.91,893.39 L1551.87,893.33 L1552.82,893.27 L1553.78,893.22 L1554.74,893.16 L1555.69,893.10 L1556.65,893.04 L1557.60,892.99 L1558.56,892.93 L1559.52,892.88 L1560.47,892.82 L1561.43,892.76 L1562.39,892.71 L1563.34,892.65 L1564.30,892.60 L1565.26,892.54 L1566.21,892.49 L1567.17,892.43 L1568.12,892.38 L1569.08,892.33 L1570.04,892.27 L1570.99,892.22 L1571.95,892.17 L1572.91,892.11 L1573.86,892.06 L1574.82,892.01 L1575.78,891.96 L1576.73,891.91 L1577.69,891.86 L1578.65,891.81 L1579.60,891.75 L1580.56,891.70 L1581.52,891.66 L1582.47,891.61 L1583.43,891.56 L1584.39,891.51 L1585.34,891.46 L1586.30,891.41 L1587.26,891.36 L1588.21,891.32 L1589.17,891.27 L1590.13,891.22 L1591.08,891.18 L1592.04,891.13 L1593.00,891.09 L1593.95,891.04 L1594.91,891.00 L1595.87,890.95 L1596.82,890.91 L1597.78,890.87 L1598.74,890.82 L1599.70,890.78 L1600.65,890.74 L1601.61,890.70 L1602.57,890.66 L1603.52,890.62 L1604.48,890.58 L1605.44,890.54 L1606.39,890.50 L1607.35,890.46 L1608.31,890.42 L1609.27,890.39 L1610.22,890.35 L1611.18,890.31 L1612.14,890.28 L1613.09,890.24 L1614.05,890.21 L1615.01,890.17 L1615.97,890.14 L1616.92,890.11 L1617.88,890.07 L1618.84,890.04 L1619.80,890.01 L1620.75,889.98 L1621.71,889.95 L1622.67,889.92 L1623.63,889.89 L1624.58,889.86 L1625.54,889.84 L1626.50,889.81 L1627.46,889.78 L1628.41,889.76 L1629.37,889.73 L1630.33,889.71 L1631.29,889.68 L1632.25,889.66 L1633.20,889.64 L1634.16,889.61 L1635.12,889.59 L1636.08,889.57 L1637.03,889.55 L1637.99,889.53 L1638.95,889.51 L1639.91,889.50 L1640.87,889.48 L1641.82,889.46 L1642.78,889.45 L1643.74,889.43 L1644.70,889.42 L1645.66,889.40 L1646.62,889.39 L1647.57,889.38 L1648.53,889.36 L1649.49,889.35 L1650.45,889.34 L1651.41,889.33 L1652.37,889.33 L1653.32,889.32 L1654.28,889.31 L1655.24,889.31 L1656.20,889.30" fill="none" stroke="#f2844b" stroke-width="1.6" stroke-linejoin="round" />
<path d="M1465.80,898.50 L1466.76,898.43 L1467.72,898.36 L1468.67,898.29 L1469.63,898.22 L1470.59,898.15 L1471.55,898.08 L1472.50,898.01 L1473.46,897.93 L1474.42,897.86 L1475.37,897.78 L1476.33,897.71 L1477.29,897.63 L1478.25,897.55 L1479.20,897.48 L1480.16,897.40 L1481.12,897.32 L1482.07,897.24 L1483.03,897.16 L1483.99,897.07 L1484.94,896.99 L1485.90,896.91 L1486.86,896.83 L1487.81,896.74 L1488.77,896.66 L1489.73,896.57 L1490.68,896.48 L1491.64,896.40 L1492.59,896.31 L1493.55,896.22 L1494.51,896.14 L1495.46,896.05 L1496.42,895.96 L1497.37,895.87 L1498.33,895.78 L1499.29,895.69 L1500.24,895.59 L1501.20,895.50 L1502.15,895.41 L1503.11,895.32 L1504.07,895.23 L1505.02,895.13 L1505.98,895.04 L1506.93,894.94 L1507.89,894.85 L1508.84,894.75 L1509.80,894.66 L1510.75,894.56 L1511.71,894.47 L1512.67,894.37 L1513.62,894.27 L1514.58,894.18 L1515.53,894.08 L1516.49,893.98 L1517.44,893.89 L1518.40,893.79 L1519.35,893.69 L1520.31,893.59 L1521.26,893.49 L1522.22,893.39 L1523.17,893.29 L1524.13,893.19 L1525.08,893.10 L1526.04,893.00 L1526.99,892.90 L1527.95,892.80 L1528.91,892.70 L1529.86,892.60 L1530.82,892.50 L1531.77,892.40 L1532.73,892.30 L1533.68,892.19 L1534.64,892.09 L1535.59,891.99 L1536.55,891.89 L1537.50,891.79 L1538.46,891.69 L1539.41,891.59 L1540.37,891.49 L1541.32,891.39 L1542.28,891.29 L1543.23,891.19 L1544.19,891.09 L1545.14,890.99 L1546.10,890.89 L1547.05,890.79 L1548.01,890.69 L1548.96,890.59 L1549.92,890.49 L1550.87,890.39 L1551.83,890.29 L1552.78,890.19 L1553.74,890.09 L1554.69,889.99 L1555.65,889.90 L1556.60,889.80 L1557.56,889.70 L1558.51,889.60 L1559.47,889.50 L1560.42,889.41 L1561.38,889.31 L1562.33,889.21 L1563.29,889.11 L1564.25,889.02 L1565.20,888.92 L1566.16,888.83 L1567.11,888.73 L1568.07,888.64 L1569.02,888.54 L1569.98,888.45 L1570.93,888.35 L1571.89,888.26 L1572.84,888.17 L1573.80,888.08 L1574.76,887.98 L1575.71,887.89 L1576.67,887.80 L1577.62,887.71 L1578.58,887.62 L1579.53,887.53 L1580.49,887.44 L1581.45,887.35 L1582.40,887.26 L1583.36,887.18 L1584.31,887.09 L1585.27,887.00 L1586.23,886.92 L1587.18,886.83 L1588.14,886.75 L1589.10,886.66 L1590.05,886.58 L1591.01,886.50 L1591.96,886.42 L1592.92,886.33 L1593.88,886.25 L1594.83,886.17 L1595.79,886.09 L1596.75,886.01 L1597.70,885.94 L1598.66,885.86 L1599.62,885.78 L1600.57,885.71 L1601.53,885.63 L1602.49,885.56 L1603.45,885.48 L1604.40,885.41 L1605.36,885.34 L1606.32,885.27 L1607.27,885.20 L1608.23,885.13 L1609.19,885.06 L1610.15,884.99 L1611.10,884.93 L1612.06,884.86 L1613.02,884.80 L1613.98,884.73 L1614.93,884.67 L1615.89,884.61 L1616.85,884.54 L1617.81,884.48 L1618.77,884.43 L1619.72,884.37 L1620.68,884.31 L1621.64,884.25 L1622.60,884.20 L1623.56,884.14 L1624.52,884.09 L1625.48,884.04 L1626.43,883.99 L1627.39,883.94 L1628.35,883.89 L1629.31,883.84 L1630.27,883.79 L1631.23,883.75 L1632.19,883.70 L1633.15,883.66 L1634.11,883.62 L1635.07,883.58 L1636.03,883.54 L1636.99,883.50 L1637.95,883.46 L1638.91,883.43 L1639.87,883.39 L1640.83,883.36 L1641.79,883.33 L1642.75,883.30 L1643.71,883.27 L1644.67,883.24 L1645.63,883.21 L1646.59,883.18 L1647.55,883.16 L1648.51,883.14 L1649.47,883.11 L1650.43,883.09 L1651.39,883.07 L1652.35,883.06 L1653.32,883.04 L1654.28,883.03 L1655.24,883.01 L1656.20,883.00" fill="none" stroke="#cb4679" stroke-width="1.6" stroke-linejoin="round" />
<path d="M1465.80,898.50 L1466.76,898.45 L1467.72,898.39 L1468.67,898.33 L1469.63,898.28 L1470.59,898.22 L1471.55,898.16 L1472.51,898.10 L1473.46,898.04 L1474.42,897.97 L1475.38,897.91 L1476.34,897.85 L1477.29,897.78 L1478.25,897.72 L1479.21,897.65 L1480.17,897.59 L1481.12,897.52 L1482.08,897.45 L1483.04,897.38 L1483.99,897.31 L1484.95,897.24 L1485.91,897.17 L1486.87,897.10 L1487.82,897.03 L1488.78,896.95 L1489.74,896.88 L1490.69,896.81 L1491.65,896.73 L1492.61,896.66 L1493.56,896.58 L1494.52,896.50 L1495.48,896.43 L1496.43,896.35 L1497.39,896.27 L1498.35,896.19 L1499.30,896.11 L1500.26,896.03 L1501.21,895.95 L1502.17,895.87 L1503.13,895.79 L1504.08,895.71 L1505.04,895.62 L1505.99,895.54 L1506.95,895.46 L1507.91,895.37 L1508.86,895.29 L1509.82,895.20 L1510.77,895.12 L1511.73,895.03 L1512.69,894.95 L1513.64,894.86 L1514.60,894.77 L1515.55,894.69 L1516.51,894.60 L1517.47,894.51 L1518.42,894.42 L1519.38,894.34 L1520.33,894.25 L1521.29,894.16 L1522.24,894.07 L1523.20,893.98 L1524.15,893.89 L1525.11,893.80 L1526.07,893.71 L1527.02,893.62 L1527.98,893.53 L1528.93,893.44 L1529.89,893.35 L1530.84,893.26 L1531.80,893.17 L1532.75,893.07 L1533.71,892.98 L1534.66,892.89 L1535.62,892.80 L1536.58,892.71 L1537.53,892.62 L1538.49,892.52 L1539.44,892.43 L1540.40,892.34 L1541.35,892.25 L1542.31,892.15 L1543.26,892.06 L1544.22,891.97 L1545.17,891.88 L1546.13,891.79 L1547.08,891.69 L1548.04,891.60 L1548.99,891.51 L1549.95,891.42 L1550.91,891.33 L1551.86,891.23 L1552.82,891.14 L1553.77,891.05 L1554.73,890.96 L1555.68,890.87 L1556.64,890.78 L1557.59,890.68 L1558.55,890.59 L1559.50,890.50 L1560.46,890.41 L1561.41,890.32 L1562.37,890.23 L1563.33,890.14 L1564.28,890.05 L1565.24,889.96 L1566.19,889.87 L1567.15,889.78 L1568.10,889.69 L1569.06,889.61 L1570.01,889.52 L1570.97,889.43 L1571.93,889.34 L1572.88,889.26 L1573.84,889.17 L1574.79,889.08 L1575.75,889.00 L1576.70,888.91 L1577.66,888.82 L1578.62,888.74 L1579.57,888.65 L1580.53,888.57 L1581.48,888.49 L1582.44,888.40 L1583.39,888.32 L1584.35,888.24 L1585.31,888.16 L1586.26,888.07 L1587.22,887.99 L1588.17,887.91 L1589.13,887.83 L1590.09,887.75 L1591.04,887.67 L1592.00,887.60 L1592.96,887.52 L1593.91,887.44 L1594.87,887.36 L1595.83,887.29 L1596.78,887.21 L1597.74,887.14 L1598.69,887.06 L1599.65,886.99 L1600.61,886.92 L1601.56,886.85 L1602.52,886.77 L1603.48,886.70 L1604.43,886.63 L1605.39,886.56 L1606.35,886.50 L1607.31,886.43 L1608.26,886.36 L1609.22,886.29 L1610.18,886.23 L1611.13,886.16 L1612.09,886.10 L1613.05,886.04 L1614.01,885.97 L1614.96,885.91 L1615.92,885.85 L1616.88,885.79 L1617.84,885.73 L1618.79,885.67 L1619.75,885.62 L1620.71,885.56 L1621.67,885.50 L1622.63,885.45 L1623.58,885.40 L1624.54,885.34 L1625.50,885.29 L1626.46,885.24 L1627.42,885.19 L1628.37,885.14 L1629.33,885.09 L1630.29,885.05 L1631.25,885.00 L1632.21,884.96 L1633.17,884.91 L1634.13,884.87 L1635.08,884.83 L1636.04,884.79 L1637.00,884.75 L1637.96,884.71 L1638.92,884.67 L1639.88,884.63 L1640.84,884.60 L1641.80,884.57 L1642.76,884.53 L1643.72,884.50 L1644.68,884.47 L1645.64,884.44 L1646.60,884.41 L1647.56,884.39 L1648.52,884.36 L1649.48,884.34 L1650.44,884.31 L1651.40,884.29 L1652.36,884.27 L1653.32,884.25 L1654.28,884.23 L1655.24,884.22 L1656.20,884.20" fill="none" stroke="#cb4679" stroke-width="1.6" stroke-linejoin="round" stroke-dasharray="5.5 5.5" />
<path d="M1465.80,898.50 L1466.82,898.35 L1467.84,898.20 L1468.87,898.04 L1469.88,897.88 L1470.90,897.72 L1471.92,897.55 L1472.93,897.37 L1473.95,897.20 L1474.96,897.02 L1475.97,896.83 L1476.98,896.64 L1477.99,896.45 L1479.00,896.25 L1480.01,896.05 L1481.01,895.85 L1482.02,895.64 L1483.02,895.43 L1484.02,895.22 L1485.03,895.00 L1486.03,894.78 L1487.02,894.55 L1488.02,894.32 L1489.02,894.09 L1490.01,893.85 L1491.01,893.61 L1492.00,893.37 L1492.99,893.12 L1493.98,892.87 L1494.98,892.62 L1495.96,892.37 L1496.95,892.11 L1497.94,891.84 L1498.93,891.58 L1499.91,891.31 L1500.89,891.04 L1501.88,890.76 L1502.86,890.48 L1503.84,890.20 L1504.82,889.92 L1505.80,889.63 L1506.78,889.34 L1507.76,889.05 L1508.73,888.75 L1509.71,888.45 L1510.68,888.15 L1511.66,887.85 L1512.63,887.54 L1513.60,887.23 L1514.57,886.92 L1515.54,886.60 L1516.51,886.29 L1517.48,885.97 L1518.45,885.64 L1519.42,885.32 L1520.38,884.99 L1521.35,884.66 L1522.31,884.33 L1523.28,883.99 L1524.24,883.66 L1525.20,883.32 L1526.17,882.97 L1527.13,882.63 L1528.09,882.28 L1529.05,881.93 L1530.01,881.58 L1530.96,881.23 L1531.92,880.88 L1532.88,880.52 L1533.84,880.16 L1534.79,879.80 L1535.75,879.43 L1536.70,879.07 L1537.65,878.70 L1538.61,878.33 L1539.56,877.96 L1540.51,877.59 L1541.46,877.21 L1542.41,876.84 L1543.36,876.46 L1544.31,876.08 L1545.26,875.70 L1546.21,875.32 L1547.16,874.93 L1548.11,874.54 L1549.05,874.16 L1550.00,873.77 L1550.95,873.38 L1551.89,872.98 L1552.84,872.59 L1553.78,872.20 L1554.73,871.80 L1555.67,871.40 L1556.61,871.00 L1557.56,870.60 L1558.50,870.20 L1559.44,869.80 L1560.38,869.39 L1561.33,868.99 L1562.27,868.58 L1563.21,868.17 L1564.15,867.77 L1565.09,867.36 L1566.03,866.95 L1566.97,866.53 L1567.91,866.12 L1568.84,865.71 L1569.78,865.30 L1570.72,864.88 L1571.66,864.46 L1572.60,864.05 L1573.53,863.63 L1574.47,863.21 L1575.41,862.79 L1576.35,862.38 L1577.28,861.96 L1578.22,861.53 L1579.15,861.11 L1580.09,860.69 L1581.03,860.27 L1581.96,859.85 L1582.90,859.43 L1583.83,859.00 L1584.77,858.58 L1585.70,858.15 L1586.64,857.73 L1587.57,857.31 L1588.51,856.88 L1589.44,856.46 L1590.38,856.03 L1591.31,855.61 L1592.25,855.18 L1593.18,854.75 L1594.12,854.33 L1595.05,853.90 L1595.98,853.48 L1596.92,853.05 L1597.85,852.63 L1598.79,852.20 L1599.72,851.78 L1600.66,851.35 L1601.59,850.93 L1602.53,850.50 L1603.46,850.08 L1604.40,849.65 L1605.33,849.23 L1606.26,848.81 L1607.20,848.38 L1608.13,847.96 L1609.07,847.54 L1610.01,847.12 L1610.94,846.70 L1611.88,846.28 L1612.81,845.86 L1613.75,845.44 L1614.68,845.02 L1615.62,844.60 L1616.56,844.18 L1617.49,843.77 L1618.43,843.35 L1619.37,842.94 L1620.31,842.52 L1621.24,842.11 L1622.18,841.69 L1623.12,841.28 L1624.06,840.87 L1625.00,840.46 L1625.94,840.05 L1626.88,839.65 L1627.81,839.24 L1628.75,838.83 L1629.70,838.43 L1630.64,838.03 L1631.58,837.63 L1632.52,837.23 L1633.46,836.83 L1634.40,836.43 L1635.34,836.03 L1636.29,835.64 L1637.23,835.24 L1638.17,834.85 L1639.12,834.46 L1640.06,834.07 L1641.01,833.68 L1641.95,833.29 L1642.90,832.91 L1643.85,832.52 L1644.79,832.14 L1645.74,831.76 L1646.69,831.38 L1647.64,831.01 L1648.59,830.63 L1649.54,830.26 L1650.49,829.89 L1651.44,829.52 L1652.39,829.15 L1653.34,828.79 L1654.29,828.42 L1655.25,828.06 L1656.20,827.70" fill="none" stroke="#8f0da4" stroke-width="1.6" stroke-linejoin="round" />
<path d="M1465.80,898.50 L1466.81,898.48 L1467.82,898.45 L1468.83,898.42 L1469.84,898.38 L1470.84,898.34 L1471.85,898.30 L1472.85,898.25 L1473.85,898.19 L1474.86,898.13 L1475.86,898.06 L1476.86,897.99 L1477.85,897.92 L1478.85,897.84 L1479.85,897.75 L1480.84,897.67 L1481.84,897.57 L1482.83,897.48 L1483.83,897.37 L1484.82,897.27 L1485.81,897.16 L1486.80,897.04 L1487.79,896.92 L1488.77,896.80 L1489.76,896.67 L1490.75,896.54 L1491.73,896.41 L1492.72,896.27 L1493.70,896.12 L1494.68,895.97 L1495.66,895.82 L1496.64,895.67 L1497.62,895.51 L1498.60,895.34 L1499.58,895.18 L1500.56,895.01 L1501.53,894.83 L1502.51,894.65 L1503.48,894.47 L1504.46,894.29 L1505.43,894.10 L1506.40,893.91 L1507.38,893.71 L1508.35,893.51 L1509.32,893.31 L1510.29,893.10 L1511.25,892.89 L1512.22,892.68 L1513.19,892.47 L1514.16,892.25 L1515.12,892.03 L1516.09,891.80 L1517.05,891.57 L1518.02,891.34 L1518.98,891.11 L1519.94,890.87 L1520.90,890.63 L1521.86,890.39 L1522.82,890.15 L1523.78,889.90 L1524.74,889.65 L1525.70,889.39 L1526.66,889.14 L1527.62,888.88 L1528.57,888.62 L1529.53,888.35 L1530.49,888.09 L1531.44,887.82 L1532.40,887.55 L1533.35,887.28 L1534.30,887.00 L1535.26,886.72 L1536.21,886.44 L1537.16,886.16 L1538.11,885.88 L1539.06,885.59 L1540.02,885.30 L1540.97,885.01 L1541.92,884.72 L1542.86,884.42 L1543.81,884.13 L1544.76,883.83 L1545.71,883.53 L1546.66,883.23 L1547.60,882.92 L1548.55,882.62 L1549.50,882.31 L1550.44,882.00 L1551.39,881.69 L1552.34,881.38 L1553.28,881.06 L1554.23,880.75 L1555.17,880.43 L1556.11,880.12 L1557.06,879.80 L1558.00,879.48 L1558.94,879.16 L1559.89,878.83 L1560.83,878.51 L1561.77,878.18 L1562.71,877.86 L1563.66,877.53 L1564.60,877.20 L1565.54,876.87 L1566.48,876.54 L1567.42,876.21 L1568.36,875.88 L1569.30,875.55 L1570.24,875.21 L1571.18,874.88 L1572.12,874.54 L1573.06,874.21 L1574.00,873.87 L1574.94,873.53 L1575.88,873.20 L1576.82,872.86 L1577.76,872.52 L1578.70,872.18 L1579.64,871.84 L1580.58,871.50 L1581.52,871.16 L1582.46,870.82 L1583.39,870.48 L1584.33,870.14 L1585.27,869.80 L1586.21,869.46 L1587.15,869.11 L1588.09,868.77 L1589.03,868.43 L1589.96,868.09 L1590.90,867.75 L1591.84,867.41 L1592.78,867.07 L1593.72,866.72 L1594.66,866.38 L1595.60,866.04 L1596.54,865.70 L1597.47,865.36 L1598.41,865.02 L1599.35,864.68 L1600.29,864.34 L1601.23,864.00 L1602.17,863.66 L1603.11,863.33 L1604.05,862.99 L1604.99,862.65 L1605.93,862.32 L1606.87,861.98 L1607.81,861.65 L1608.75,861.31 L1609.69,860.98 L1610.63,860.65 L1611.57,860.32 L1612.51,859.99 L1613.46,859.66 L1614.40,859.33 L1615.34,859.00 L1616.28,858.67 L1617.22,858.35 L1618.17,858.02 L1619.11,857.70 L1620.05,857.38 L1621.00,857.06 L1621.94,856.74 L1622.89,856.42 L1623.83,856.10 L1624.78,855.79 L1625.72,855.47 L1626.67,855.16 L1627.61,854.85 L1628.56,854.54 L1629.50,854.23 L1630.45,853.93 L1631.40,853.62 L1632.35,853.32 L1633.30,853.02 L1634.24,852.72 L1635.19,852.42 L1636.14,852.12 L1637.09,851.83 L1638.04,851.54 L1638.99,851.25 L1639.95,850.96 L1640.90,850.67 L1641.85,850.39 L1642.80,850.11 L1643.76,849.83 L1644.71,849.55 L1645.66,849.27 L1646.62,849.00 L1647.57,848.73 L1648.53,848.46 L1649.49,848.19 L1650.44,847.93 L1651.40,847.67 L1652.36,847.41 L1653.32,847.15 L1654.28,846.90 L1655.24,846.65 L1656.20,846.40" fill="none" stroke="#8f0da4" stroke-width="1.6" stroke-linejoin="round" stroke-dasharray="5.5 5.5" />
<path d="M1465.80,898.50 L1466.42,897.30 L1467.03,896.10 L1467.65,894.90 L1468.26,893.71 L1468.88,892.51 L1469.49,891.31 L1470.11,890.11 L1470.72,888.91 L1471.33,887.71 L1471.94,886.51 L1472.55,885.31 L1473.16,884.10 L1473.77,882.90 L1474.38,881.70 L1474.99,880.50 L1475.60,879.30 L1476.21,878.09 L1476.82,876.89 L1477.43,875.69 L1478.03,874.48 L1478.64,873.28 L1479.25,872.08 L1479.85,870.87 L1480.46,869.67 L1481.06,868.46 L1481.67,867.26 L1482.27,866.05 L1482.87,864.85 L1483.48,863.64 L1484.08,862.44 L1484.68,861.23 L1485.28,860.03 L1485.88,858.82 L1486.48,857.61 L1487.09,856.41 L1487.69,855.20 L1488.29,853.99 L1488.89,852.78 L1489.48,851.58 L1490.08,850.37 L1490.68,849.16 L1491.28,847.95 L1491.88,846.74 L1492.48,845.54 L1493.07,844.33 L1493.67,843.12 L1494.27,841.91 L1494.86,840.70 L1495.46,839.49 L1496.05,838.28 L1496.65,837.07 L1497.25,835.86 L1497.84,834.65 L1498.44,833.44 L1499.03,832.23 L1499.62,831.02 L1500.22,829.81 L1500.81,828.60 L1501.41,827.39 L1502.00,826.18 L1502.59,824.97 L1503.18,823.76 L1503.78,822.54 L1504.37,821.33 L1504.96,820.12 L1505.55,818.91 L1506.15,817.70 L1506.74,816.49 L1507.33,815.27 L1507.92,814.06 L1508.51,812.85 L1509.10,811.64 L1509.69,810.43 L1510.28,809.21 L1510.87,808.00 L1511.47,806.79 L1512.06,805.58 L1512.65,804.36 L1513.24,803.15 L1513.83,801.94 L1514.42,800.72 L1515.01,799.51 L1515.60,798.30 L1516.18,797.08 L1516.77,795.87 L1517.36,794.66 L1517.95,793.45 L1518.54,792.23 L1519.13,791.02 L1519.72,789.81 L1520.31,788.59 L1520.90,787.38 L1521.49,786.16 L1522.08,784.95 L1522.67,783.74 L1523.26,782.52 L1523.84,781.31 L1524.43,780.10 L1525.02,778.88 L1525.61,777.67 L1526.20,776.46 L1526.79,775.24 L1527.38,774.03 L1527.97,772.82 L1528.56,771.60 L1529.15,770.39 L1529.74,769.18 L1530.33,767.96 L1530.92,766.75 L1531.50,765.53 L1532.09,764.32 L1532.68,763.11 L1533.27,761.89 L1533.86,760.68 L1534.45,759.47 L1535.04,758.25 L1535.63,757.04 L1536.22,755.83 L1536.81,754.62 L1537.40,753.40 L1538.00,752.19 L1538.59,750.98 L1539.18,749.76 L1539.77,748.55 L1540.36,747.34 L1540.95,746.13 L1541.54,744.91 L1542.13,743.70 L1542.73,742.49 L1543.32,741.28 L1543.91,740.06 L1544.50,738.85 L1545.10,737.64 L1545.69,736.43 L1546.28,735.22 L1546.88,734.00 L1547.47,732.79 L1548.06,731.58 L1548.66,730.37 L1549.25,729.16 L1549.85,727.95 L1550.44,726.74 L1551.04,725.53 L1551.63,724.31 L1552.23,723.10 L1552.82,721.89 L1553.42,720.68 L1554.02,719.47 L1554.61,718.26 L1555.21,717.05 L1555.81,715.84 L1556.40,714.63 L1557.00,713.42 L1557.60,712.22 L1558.20,711.01 L1558.80,709.80 L1559.40,708.59 L1560.00,707.38 L1560.60,706.17 L1561.20,704.96 L1561.80,703.76 L1562.40,702.55 L1563.01,701.34 L1563.61,700.14 L1564.21,698.93 L1564.82,697.72 L1565.42,696.52 L1566.03,695.31 L1566.63,694.11 L1567.24,692.90 L1567.85,691.70 L1568.45,690.49 L1569.06,689.29 L1569.67,688.08 L1570.28,686.88 L1570.89,685.68 L1571.50,684.48 L1572.11,683.27 L1572.73,682.07 L1573.34,680.87 L1573.95,679.67 L1574.57,678.47 L1575.19,677.27 L1575.80,676.07 L1576.42,674.87 L1577.04,673.68 L1577.66,672.48 L1578.28,671.28 L1578.90,670.08 L1579.52,668.89 L1580.14,667.69 L1580.77,666.50 L1581.39,665.30 L1582.02,664.11 L1582.64,662.92 L1583.27,661.72 L1583.90,660.53 L1584.53,659.34 L1585.16,658.15 L1585.79,656.96 L1586.43,655.77 L1587.06,654.58 L1587.69,653.39 L1588.33,652.20 L1588.97,651.02 L1589.61,649.83 L1590.25,648.64 L1590.89,647.46 L1591.53,646.27 L1592.17,645.09 L1592.82,643.91 L1593.46,642.73 L1594.11,641.54 L1594.76,640.36 L1595.41,639.18 L1596.06,638.01 L1596.71,636.83 L1597.37,635.65 L1598.02,634.47 L1598.68,633.30 L1599.34,632.12 L1600.00,630.95 L1600.66,629.77 L1601.32,628.60 L1601.98,627.43 L1602.65,626.26 L1603.31,625.09 L1603.98,623.92 L1604.65,622.75 L1605.32,621.59 L1606.00,620.42 L1606.67,619.25 L1607.35,618.09 L1608.02,616.93 L1608.70,615.76 L1609.38,614.60 L1610.06,613.44 L1610.75,612.28 L1611.43,611.12 L1612.12,609.97 L1612.81,608.81 L1613.50,607.65 L1614.19,606.50 L1614.89,605.35 L1615.58,604.19 L1616.28,603.04 L1616.98,601.89 L1617.68,600.74 L1618.39,599.60 L1619.09,598.45 L1619.80,597.30 L1620.51,596.16 L1621.22,595.02 L1621.93,593.87 L1622.64,592.73 L1623.36,591.59 L1624.08,590.45 L1624.80,589.31 L1625.52,588.18 L1626.24,587.04 L1626.97,585.91 L1627.70,584.78 L1628.43,583.64 L1629.16,582.51 L1629.89,581.38 L1630.63,580.26 L1631.37,579.13 L1632.11,578.00 L1632.85,576.88 L1633.60,575.76 L1634.35,574.64 L1635.09,573.52 L1635.85,572.40 L1636.60,571.28 L1637.36,570.16 L1638.11,569.05 L1638.87,567.93 L1639.64,566.82 L1640.40,565.71 L1641.17,564.60 L1641.94,563.49 L1642.71,562.39 L1643.48,561.28 L1644.26,560.18 L1645.04,559.08 L1645.82,557.98 L1646.60,556.88 L1647.39,555.78 L1648.18,554.68 L1648.97,553.59 L1649.76,552.49 L1650.56,551.40 L1651.36,550.31 L1652.16,549.22 L1652.96,548.13 L1653.77,547.05 L1654.58,545.96 L1655.39,544.88 L1656.20,543.80" fill="none" stroke="#41049d" stroke-width="1.6" stroke-linejoin="round" />
<path d="M1465.80,898.50 L1466.42,898.16 L1467.03,897.81 L1467.64,897.46 L1468.26,897.11 L1468.87,896.76 L1469.48,896.40 L1470.09,896.05 L1470.69,895.69 L1471.30,895.33 L1471.91,894.97 L1472.51,894.61 L1473.12,894.24 L1473.72,893.88 L1474.32,893.51 L1474.92,893.14 L1475.52,892.77 L1476.12,892.40 L1476.72,892.02 L1477.32,891.65 L1477.91,891.27 L1478.51,890.89 L1479.10,890.51 L1479.70,890.13 L1480.29,889.75 L1480.88,889.36 L1481.48,888.98 L1482.07,888.59 L1482.66,888.20 L1483.25,887.81 L1483.84,887.42 L1484.42,887.03 L1485.01,886.64 L1485.60,886.25 L1486.18,885.85 L1486.77,885.46 L1487.35,885.06 L1487.94,884.66 L1488.52,884.26 L1489.11,883.86 L1489.69,883.46 L1490.27,883.06 L1490.85,882.66 L1491.43,882.26 L1492.01,881.85 L1492.59,881.45 L1493.17,881.04 L1493.75,880.63 L1494.33,880.23 L1494.91,879.82 L1495.49,879.41 L1496.07,879.00 L1496.64,878.59 L1497.22,878.18 L1497.80,877.77 L1498.37,877.36 L1498.95,876.95 L1499.53,876.54 L1500.10,876.13 L1500.68,875.71 L1501.25,875.30 L1501.83,874.89 L1502.40,874.47 L1502.98,874.06 L1503.55,873.64 L1504.13,873.23 L1504.70,872.81 L1505.27,872.40 L1505.85,871.98 L1506.42,871.57 L1507.00,871.15 L1507.57,870.74 L1508.14,870.32 L1508.72,869.91 L1509.29,869.49 L1509.87,869.08 L1510.44,868.66 L1511.01,868.25 L1511.59,867.83 L1512.16,867.42 L1512.74,867.00 L1513.31,866.59 L1513.89,866.17 L1514.46,865.76 L1515.04,865.35 L1515.61,864.93 L1516.19,864.52 L1516.76,864.11 L1517.34,863.70 L1517.91,863.29 L1518.49,862.87 L1519.07,862.46 L1519.65,862.05 L1520.22,861.64 L1520.80,861.23 L1521.38,860.83 L1521.96,860.42 L1522.54,860.01 L1523.11,859.61 L1523.69,859.20 L1524.27,858.79 L1524.85,858.39 L1525.44,857.99 L1526.02,857.58 L1526.60,857.18 L1527.18,856.78 L1527.76,856.38 L1528.35,855.98 L1528.93,855.59 L1529.52,855.19 L1530.10,854.79 L1530.69,854.40 L1531.27,854.00 L1531.86,853.61 L1532.45,853.22 L1533.04,852.83 L1533.63,852.44 L1534.22,852.05 L1534.81,851.67 L1535.40,851.28 L1535.99,850.90 L1536.59,850.51 L1537.18,850.13 L1537.77,849.75 L1538.37,849.37 L1538.97,849.00 L1539.56,848.62 L1540.16,848.25 L1540.76,847.87 L1541.36,847.50 L1541.96,847.13 L1542.56,846.76 L1543.16,846.40 L1543.77,846.03 L1544.37,845.67 L1544.98,845.31 L1545.58,844.95 L1546.19,844.59 L1546.80,844.23 L1547.41,843.88 L1548.02,843.53 L1548.63,843.18 L1549.25,842.83 L1549.86,842.48 L1550.48,842.14 L1551.09,841.79 L1551.71,841.45 L1552.33,841.12 L1552.95,840.78 L1553.57,840.44 L1554.19,840.11 L1554.82,839.78 L1555.44,839.45 L1556.07,839.13 L1556.69,838.80 L1557.32,838.48 L1557.95,838.16 L1558.58,837.85 L1559.21,837.53 L1559.84,837.22 L1560.48,836.91 L1561.11,836.60 L1561.75,836.30 L1562.39,836.00 L1563.02,835.70 L1563.66,835.40 L1564.30,835.10 L1564.94,834.81 L1565.59,834.52 L1566.23,834.23 L1566.87,833.95 L1567.52,833.67 L1568.17,833.39 L1568.81,833.11 L1569.46,832.84 L1570.11,832.57 L1570.76,832.30 L1571.42,832.03 L1572.07,831.77 L1572.72,831.51 L1573.38,831.25 L1574.04,831.00 L1574.69,830.75 L1575.35,830.50 L1576.01,830.26 L1576.67,830.02 L1577.33,829.78 L1578.00,829.54 L1578.66,829.31 L1579.32,829.08 L1579.99,828.85 L1580.66,828.63 L1581.33,828.41 L1581.99,828.19 L1582.67,827.98 L1583.34,827.77 L1584.01,827.56 L1584.68,827.36 L1585.36,827.16 L1586.03,826.96 L1586.71,826.77 L1587.39,826.58 L1588.06,826.39 L1588.74,826.21 L1589.42,826.03 L1590.11,825.85 L1590.79,825.68 L1591.47,825.51 L1592.16,825.34 L1592.84,825.18 L1593.53,825.02 L1594.22,824.87 L1594.91,824.72 L1595.60,824.57 L1596.29,824.43 L1596.98,824.29 L1597.67,824.15 L1598.36,824.02 L1599.06,823.89 L1599.75,823.77 L1600.45,823.64 L1601.15,823.52 L1601.85,823.41 L1602.54,823.30 L1603.24,823.19 L1603.94,823.08 L1604.64,822.98 L1605.35,822.88 L1606.05,822.78 L1606.75,822.69 L1607.45,822.59 L1608.16,822.51 L1608.86,822.42 L1609.57,822.34 L1610.28,822.25 L1610.98,822.18 L1611.69,822.10 L1612.40,822.02 L1613.10,821.95 L1613.81,821.88 L1614.52,821.82 L1615.23,821.75 L1615.94,821.69 L1616.65,821.63 L1617.36,821.57 L1618.07,821.51 L1618.78,821.45 L1619.49,821.40 L1620.20,821.35 L1620.91,821.30 L1621.62,821.25 L1622.33,821.20 L1623.05,821.15 L1623.76,821.11 L1624.47,821.07 L1625.18,821.02 L1625.89,820.98 L1626.61,820.94 L1627.32,820.90 L1628.03,820.87 L1628.74,820.83 L1629.45,820.79 L1630.16,820.76 L1630.88,820.72 L1631.59,820.69 L1632.30,820.66 L1633.01,820.62 L1633.72,820.59 L1634.43,820.56 L1635.14,820.53 L1635.85,820.50 L1636.56,820.47 L1637.27,820.44 L1637.98,820.41 L1638.69,820.38 L1639.39,820.35 L1640.10,820.32 L1640.81,820.29 L1641.51,820.26 L1642.22,820.23 L1642.93,820.20 L1643.63,820.17 L1644.34,820.14 L1645.04,820.11 L1645.74,820.08 L1646.44,820.04 L1647.15,820.01 L1647.85,819.98 L1648.55,819.94 L1649.25,819.91 L1649.95,819.87 L1650.65,819.84 L1651.34,819.80 L1652.04,819.76 L1652.74,819.72 L1653.43,819.68 L1654.12,819.63 L1654.82,819.59 L1655.51,819.55 L1656.20,819.50" fill="none" stroke="#41049d" stroke-width="1.6" stroke-linejoin="round" stroke-dasharray="5.5 5.5" />
<line x1="1208.50" y1="497.00" x2="1208.50" y2="917.90" stroke="#1a1a1a" stroke-width="0.9" />
<line x1="1208.00" y1="917.40" x2="1677.70" y2="917.40" stroke="#1a1a1a" stroke-width="0.9" />
<line x1="1198.60" y1="898.50" x2="1208.50" y2="898.50" stroke="#1a1a1a" stroke-width="1.2" />
<text x="1195.30" y="904.40" font-size="16.45" text-anchor="end" fill="#000" stroke="#000" stroke-width="0.43" >0.00</text>
<line x1="1198.60" y1="803.10" x2="1208.50" y2="803.10" stroke="#1a1a1a" stroke-width="1.2" />
<text x="1195.30" y="809.00" font-size="16.45" text-anchor="end" fill="#000" stroke="#000" stroke-width="0.43" >0.25</text>
<line x1="1198.60" y1="707.70" x2="1208.50" y2="707.70" stroke="#1a1a1a" stroke-width="1.2" />
<text x="1195.30" y="713.60" font-size="16.45" text-anchor="end" fill="#000" stroke="#000" stroke-width="0.43" >0.50</text>
<line x1="1198.60" y1="612.30" x2="1208.50" y2="612.30" stroke="#1a1a1a" stroke-width="1.2" />
<text x="1195.30" y="618.20" font-size="16.45" text-anchor="end" fill="#000" stroke="#000" stroke-width="0.43" >0.75</text>
<line x1="1198.60" y1="516.90" x2="1208.50" y2="516.90" stroke="#1a1a1a" stroke-width="1.2" />
<text x="1195.30" y="522.80" font-size="16.45" text-anchor="end" fill="#000" stroke="#000" stroke-width="0.43" >1.00</text>
<line x1="1299.80" y1="917.40" x2="1299.80" y2="927.30" stroke="#1a1a1a" stroke-width="1.2" />
<text x="1299.80" y="942.50" font-size="16.45" text-anchor="middle" fill="#000" stroke="#000" stroke-width="0.43" >May<tspan dy="1.4">−</tspan><tspan dy="-1.4">2020</tspan></text>
<line x1="1410.30" y1="917.40" x2="1410.30" y2="927.30" stroke="#1a1a1a" stroke-width="1.2" />
<text x="1410.30" y="942.50" font-size="16.45" text-anchor="middle" fill="#000" stroke="#000" stroke-width="0.43" >Sep<tspan dy="1.4">−</tspan><tspan dy="-1.4">2020</tspan></text>
<line x1="1520.60" y1="917.40" x2="1520.60" y2="927.30" stroke="#1a1a1a" stroke-width="1.2" />
<text x="1520.60" y="942.50" font-size="16.45" text-anchor="middle" fill="#000" stroke="#000" stroke-width="0.43" >Jan<tspan dy="1.4">−</tspan><tspan dy="-1.4">2021</tspan></text>
<line x1="1628.70" y1="917.40" x2="1628.70" y2="927.30" stroke="#1a1a1a" stroke-width="1.2" />
<text x="1628.70" y="942.50" font-size="16.45" text-anchor="middle" fill="#000" stroke="#000" stroke-width="0.43" >May<tspan dy="1.4">−</tspan><tspan dy="-1.4">2021</tspan></text>
<text x="1443.10" y="974.80" font-size="22" text-anchor="middle" fill="#000" stroke="#000" stroke-width="0.58" >Date</text>
<text x="16.90" y="707.20" font-size="22" text-anchor="middle" fill="#000" stroke="#000" stroke-width="0.58" transform="rotate(-90 16.90 707.20)" >Proportion released</text>
<line x1="1732.50" y1="117.50" x2="1758.00" y2="117.50" stroke="#bdbdbd" stroke-width="2.2" />
<text x="1784.00" y="128.60" font-size="26.2" text-anchor="start" fill="#000" stroke="#000" stroke-width="0.69" >No testing</text>
<text x="1735.50" y="170.50" font-size="26.2" text-anchor="start" fill="#000" stroke="#000" stroke-width="0.69" >Specificity</text>
<line x1="1732.50" y1="205.30" x2="1763.50" y2="205.30" stroke="#440154" stroke-width="2.2" />
<text x="1795.00" y="216.50" font-size="26.2" text-anchor="start" fill="#000" stroke="#000" stroke-width="0.69" >50%</text>
<line x1="1732.50" y1="243.80" x2="1763.50" y2="243.80" stroke="#33638d" stroke-width="2.2" />
<text x="1795.00" y="255.00" font-size="26.2" text-anchor="start" fill="#000" stroke="#000" stroke-width="0.69" >96%</text>
<line x1="1732.50" y1="282.50" x2="1763.50" y2="282.50" stroke="#b5de2b" stroke-width="2.2" />
<text x="1795.00" y="293.70" font-size="26.2" text-anchor="start" fill="#000" stroke="#000" stroke-width="0.69" >99.8%</text>
<text x="1735.50" y="504.40" font-size="26.2" text-anchor="start" fill="#000" stroke="#000" stroke-width="0.69" >Specificity</text>
<line x1="1732.50" y1="537.30" x2="1761.00" y2="537.30" stroke="#000" stroke-width="1.8" />
<text x="1781.50" y="543.80" font-size="26.2" text-anchor="start" fill="#000" stroke="#000" stroke-width="0.69" >96%</text>
<line x1="1732.50" y1="571.30" x2="1761.00" y2="571.30" stroke="#000" stroke-width="1.8" stroke-dasharray="14.2 10.6 4 10"/>
<text x="1781.50" y="578.50" font-size="26.2" text-anchor="start" fill="#000" stroke="#000" stroke-width="0.69" >99.8%</text>
<text x="1735.50" y="668.00" font-size="26.2" text-anchor="start" fill="#000" stroke="#000" stroke-width="0.69" >Per capita testing rate</text>
<line x1="1732.50" y1="711.50" x2="1761.00" y2="711.50" stroke="#fccd25" stroke-width="2.2" />
<text x="1784.50" y="715.10" font-size="26.2" text-anchor="start" fill="#000" stroke="#000" stroke-width="0.69" >No testing</text>
<line x1="1732.50" y1="745.00" x2="1761.00" y2="745.00" stroke="#f2844b" stroke-width="2.2" />
<text x="1782.20" y="752.80" font-size="26.2" text-anchor="start" fill="#000" stroke="#000" stroke-width="0.69" >1% per year</text>
<line x1="1732.50" y1="778.50" x2="1761.00" y2="778.50" stroke="#cb4679" stroke-width="2.2" />
<text x="1782.20" y="790.10" font-size="26.2" text-anchor="start" fill="#000" stroke="#000" stroke-width="0.69" >10% per year</text>
<line x1="1732.50" y1="812.50" x2="1761.00" y2="812.50" stroke="#8f0da4" stroke-width="2.2" />
<text x="1784.50" y="825.00" font-size="26.2" text-anchor="start" fill="#000" stroke="#000" stroke-width="0.69" >Yearly</text>
<line x1="1732.50" y1="846.00" x2="1761.00" y2="846.00" stroke="#41049d" stroke-width="2.2" />
<text x="1785.50" y="860.00" font-size="26.2" text-anchor="start" fill="#000" stroke="#000" stroke-width="0.69" >Monthly</text>
</svg>
</body>
</html>
